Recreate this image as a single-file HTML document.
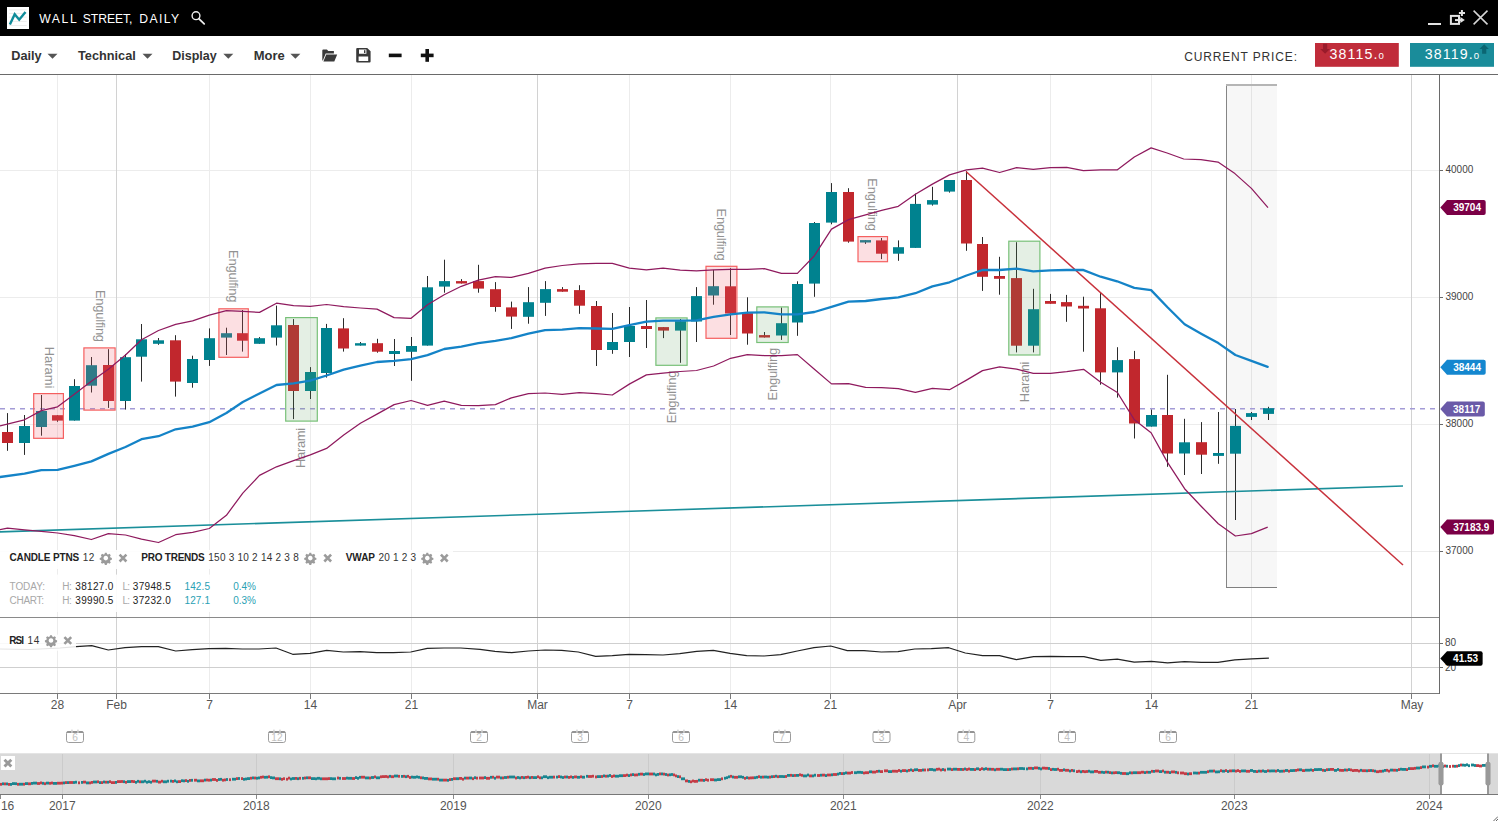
<!DOCTYPE html>
<html><head><meta charset="utf-8"><title>Wall Street, Daily</title>
<style>html,body{margin:0;padding:0;background:#fff;}body{width:1498px;height:821px;overflow:hidden;font-family:"Liberation Sans",sans-serif;}svg{display:block;font-family:"Liberation Sans",sans-serif;}</style></head><body>
<svg width="1498" height="821" viewBox="0 0 1498 821">
<rect width="1498" height="821" fill="#fff"/>
<g opacity="0.999">
<g shape-rendering="crispEdges">
<rect x="0" y="170" width="1440" height="1" fill="#ececec"/>
<rect x="0" y="297" width="1440" height="1" fill="#ececec"/>
<rect x="0" y="424" width="1440" height="1" fill="#ececec"/>
<rect x="0" y="551" width="1440" height="1" fill="#ececec"/>
<rect x="57" y="75" width="1" height="619" fill="#ececec"/>
<rect x="209" y="75" width="1" height="619" fill="#ececec"/>
<rect x="310" y="75" width="1" height="619" fill="#ececec"/>
<rect x="411" y="75" width="1" height="619" fill="#ececec"/>
<rect x="629" y="75" width="1" height="619" fill="#ececec"/>
<rect x="730" y="75" width="1" height="619" fill="#ececec"/>
<rect x="830" y="75" width="1" height="619" fill="#ececec"/>
<rect x="1050" y="75" width="1" height="619" fill="#ececec"/>
<rect x="1151" y="75" width="1" height="619" fill="#ececec"/>
<rect x="1251" y="75" width="1" height="619" fill="#ececec"/>
<rect x="116" y="75" width="1" height="619" fill="#d2d2d2"/>
<rect x="537" y="75" width="1" height="619" fill="#d2d2d2"/>
<rect x="957" y="75" width="1" height="619" fill="#d2d2d2"/>
<rect x="1411" y="75" width="1" height="619" fill="#d2d2d2"/>
<rect x="1227" y="86" width="50" height="501" fill="#000" fill-opacity="0.03"/>
<rect x="1226" y="84" width="1" height="504" fill="#858585"/>
<rect x="1226" y="84" width="51" height="2" fill="#b5b5b5"/>
<rect x="1226" y="587" width="51" height="1" fill="#808080"/>
</g>
<line x1="0" y1="408.7" x2="1440" y2="408.7" stroke="#a39bd6" stroke-width="1.6" stroke-dasharray="5,5"/>
<g>
<rect x="7" y="413.1" width="1" height="37.7" fill="#2b2b2b"/>
<rect x="2" y="432.0" width="11" height="11.0" fill="#c1272d"/>
<rect x="24" y="415.0" width="1" height="39.9" fill="#2b2b2b"/>
<rect x="19" y="426.0" width="11" height="17.0" fill="#00828f"/>
<rect x="41" y="395.0" width="1" height="40.7" fill="#2b2b2b"/>
<rect x="36" y="411.0" width="11" height="16.0" fill="#00828f"/>
<rect x="57" y="415.2" width="1" height="6.6" fill="#2b2b2b"/>
<rect x="52" y="415.2" width="11" height="5.4" fill="#c1272d"/>
<rect x="74" y="379.2" width="1" height="41.4" fill="#2b2b2b"/>
<rect x="69" y="386.0" width="11" height="34.6" fill="#00828f"/>
<rect x="91" y="357.0" width="1" height="35.5" fill="#2b2b2b"/>
<rect x="86" y="365.2" width="11" height="20.5" fill="#00828f"/>
<rect x="108" y="349.2" width="1" height="58.7" fill="#2b2b2b"/>
<rect x="103" y="365.0" width="11" height="36.0" fill="#c1272d"/>
<rect x="125" y="354.2" width="1" height="55.4" fill="#2b2b2b"/>
<rect x="120" y="357.2" width="11" height="43.8" fill="#00828f"/>
<rect x="141" y="324.0" width="1" height="57.6" fill="#2b2b2b"/>
<rect x="136" y="339.3" width="11" height="17.4" fill="#00828f"/>
<rect x="158" y="338.0" width="1" height="6.8" fill="#2b2b2b"/>
<rect x="153" y="340.3" width="11" height="3.5" fill="#00828f"/>
<rect x="175" y="335.2" width="1" height="61.4" fill="#2b2b2b"/>
<rect x="170" y="340.3" width="11" height="41.3" fill="#c1272d"/>
<rect x="192" y="355.7" width="1" height="32.0" fill="#2b2b2b"/>
<rect x="187" y="359.0" width="11" height="24.0" fill="#00828f"/>
<rect x="209" y="328.4" width="1" height="37.5" fill="#2b2b2b"/>
<rect x="204" y="338.2" width="11" height="21.8" fill="#00828f"/>
<rect x="226" y="327.7" width="1" height="27.3" fill="#2b2b2b"/>
<rect x="221" y="333.2" width="11" height="4.4" fill="#00828f"/>
<rect x="242" y="310.0" width="1" height="41.6" fill="#2b2b2b"/>
<rect x="237" y="333.2" width="11" height="7.5" fill="#c1272d"/>
<rect x="259" y="337.1" width="1" height="6.7" fill="#2b2b2b"/>
<rect x="254" y="338.2" width="11" height="5.6" fill="#00828f"/>
<rect x="276" y="305.6" width="1" height="39.9" fill="#2b2b2b"/>
<rect x="271" y="325.3" width="11" height="12.3" fill="#00828f"/>
<rect x="293" y="319.1" width="1" height="100.0" fill="#2b2b2b"/>
<rect x="288" y="325.0" width="11" height="66.0" fill="#c1272d"/>
<rect x="310" y="367.1" width="1" height="31.9" fill="#2b2b2b"/>
<rect x="305" y="372.0" width="11" height="19.0" fill="#00828f"/>
<rect x="326" y="323.9" width="1" height="53.7" fill="#2b2b2b"/>
<rect x="321" y="328.0" width="11" height="45.0" fill="#00828f"/>
<rect x="343" y="318.2" width="1" height="33.4" fill="#2b2b2b"/>
<rect x="338" y="328.4" width="11" height="20.1" fill="#c1272d"/>
<rect x="360" y="342.0" width="1" height="3.6" fill="#2b2b2b"/>
<rect x="355" y="343.2" width="11" height="2.4" fill="#00828f"/>
<rect x="377" y="338.8" width="1" height="13.9" fill="#2b2b2b"/>
<rect x="372" y="343.2" width="11" height="8.5" fill="#c1272d"/>
<rect x="394" y="339.0" width="1" height="27.0" fill="#2b2b2b"/>
<rect x="389" y="351.0" width="11" height="3.0" fill="#00828f"/>
<rect x="411" y="337.0" width="1" height="43.8" fill="#2b2b2b"/>
<rect x="406" y="346.0" width="11" height="5.8" fill="#00828f"/>
<rect x="427" y="276.0" width="1" height="69.6" fill="#2b2b2b"/>
<rect x="422" y="287.3" width="11" height="58.3" fill="#00828f"/>
<rect x="444" y="259.7" width="1" height="33.0" fill="#2b2b2b"/>
<rect x="439" y="281.1" width="11" height="5.5" fill="#00828f"/>
<rect x="461" y="279.1" width="1" height="4.4" fill="#2b2b2b"/>
<rect x="456" y="281.1" width="11" height="2.4" fill="#c1272d"/>
<rect x="478" y="264.8" width="1" height="27.9" fill="#2b2b2b"/>
<rect x="473" y="281.1" width="11" height="7.5" fill="#c1272d"/>
<rect x="495" y="282.1" width="1" height="29.6" fill="#2b2b2b"/>
<rect x="490" y="289.2" width="11" height="17.8" fill="#c1272d"/>
<rect x="511" y="301.6" width="1" height="27.3" fill="#2b2b2b"/>
<rect x="506" y="307.4" width="11" height="9.2" fill="#c1272d"/>
<rect x="528" y="287.1" width="1" height="36.6" fill="#2b2b2b"/>
<rect x="523" y="302.2" width="11" height="14.6" fill="#00828f"/>
<rect x="545" y="281.1" width="1" height="34.8" fill="#2b2b2b"/>
<rect x="540" y="289.1" width="11" height="13.7" fill="#00828f"/>
<rect x="562" y="287.1" width="1" height="4.6" fill="#2b2b2b"/>
<rect x="557" y="289.1" width="11" height="2.6" fill="#c1272d"/>
<rect x="579" y="285.2" width="1" height="28.6" fill="#2b2b2b"/>
<rect x="574" y="290.1" width="11" height="15.6" fill="#c1272d"/>
<rect x="596" y="301.0" width="1" height="65.0" fill="#2b2b2b"/>
<rect x="591" y="306.0" width="11" height="44.0" fill="#c1272d"/>
<rect x="612" y="313.0" width="1" height="40.8" fill="#2b2b2b"/>
<rect x="607" y="342.0" width="11" height="8.0" fill="#00828f"/>
<rect x="629" y="307.0" width="1" height="50.0" fill="#2b2b2b"/>
<rect x="624" y="326.0" width="11" height="16.0" fill="#00828f"/>
<rect x="646" y="300.0" width="1" height="48.0" fill="#2b2b2b"/>
<rect x="641" y="326.0" width="11" height="3.0" fill="#c1272d"/>
<rect x="663" y="327.1" width="1" height="11.0" fill="#2b2b2b"/>
<rect x="658" y="327.1" width="11" height="3.5" fill="#c1272d"/>
<rect x="680" y="319.0" width="1" height="43.8" fill="#2b2b2b"/>
<rect x="675" y="321.2" width="11" height="9.4" fill="#00828f"/>
<rect x="696" y="287.1" width="1" height="54.9" fill="#2b2b2b"/>
<rect x="691" y="296.1" width="11" height="25.4" fill="#00828f"/>
<rect x="713" y="269.9" width="1" height="34.8" fill="#2b2b2b"/>
<rect x="708" y="286.2" width="11" height="9.3" fill="#00828f"/>
<rect x="730" y="268.2" width="1" height="66.8" fill="#2b2b2b"/>
<rect x="725" y="286.3" width="11" height="27.2" fill="#c1272d"/>
<rect x="747" y="297.3" width="1" height="47.4" fill="#2b2b2b"/>
<rect x="742" y="313.2" width="11" height="20.3" fill="#c1272d"/>
<rect x="764" y="332.0" width="1" height="5.5" fill="#2b2b2b"/>
<rect x="759" y="335.1" width="11" height="2.4" fill="#c1272d"/>
<rect x="781" y="307.5" width="1" height="32.4" fill="#2b2b2b"/>
<rect x="776" y="323.2" width="11" height="12.3" fill="#00828f"/>
<rect x="797" y="281.3" width="1" height="54.5" fill="#2b2b2b"/>
<rect x="792" y="284.0" width="11" height="38.5" fill="#00828f"/>
<rect x="814" y="222.0" width="1" height="74.8" fill="#2b2b2b"/>
<rect x="809" y="223.0" width="11" height="60.6" fill="#00828f"/>
<rect x="831" y="183.1" width="1" height="41.2" fill="#2b2b2b"/>
<rect x="826" y="192.0" width="11" height="30.6" fill="#00828f"/>
<rect x="848" y="188.2" width="1" height="54.5" fill="#2b2b2b"/>
<rect x="843" y="192.0" width="11" height="49.6" fill="#c1272d"/>
<rect x="865" y="240.1" width="1" height="3.8" fill="#2b2b2b"/>
<rect x="860" y="240.1" width="11" height="2.4" fill="#00828f"/>
<rect x="881" y="238.0" width="1" height="21.1" fill="#2b2b2b"/>
<rect x="876" y="240.4" width="11" height="13.3" fill="#c1272d"/>
<rect x="898" y="240.4" width="1" height="20.4" fill="#2b2b2b"/>
<rect x="893" y="247.2" width="11" height="6.5" fill="#00828f"/>
<rect x="915" y="193.6" width="1" height="54.3" fill="#2b2b2b"/>
<rect x="910" y="203.9" width="11" height="44.0" fill="#00828f"/>
<rect x="932" y="186.8" width="1" height="18.8" fill="#2b2b2b"/>
<rect x="927" y="200.1" width="11" height="4.5" fill="#00828f"/>
<rect x="949" y="180.0" width="1" height="12.6" fill="#2b2b2b"/>
<rect x="944" y="180.0" width="11" height="11.6" fill="#00828f"/>
<rect x="966" y="171.1" width="1" height="79.7" fill="#2b2b2b"/>
<rect x="961" y="180.0" width="11" height="63.5" fill="#c1272d"/>
<rect x="982" y="237.0" width="1" height="53.9" fill="#2b2b2b"/>
<rect x="977" y="244.0" width="11" height="32.8" fill="#c1272d"/>
<rect x="999" y="256.8" width="1" height="37.9" fill="#2b2b2b"/>
<rect x="994" y="276.0" width="11" height="2.8" fill="#c1272d"/>
<rect x="1016" y="242.2" width="1" height="110.2" fill="#2b2b2b"/>
<rect x="1011" y="278.1" width="11" height="67.6" fill="#c1272d"/>
<rect x="1033" y="288.8" width="1" height="63.6" fill="#2b2b2b"/>
<rect x="1028" y="309.2" width="11" height="36.5" fill="#00828f"/>
<rect x="1050" y="293.9" width="1" height="9.9" fill="#2b2b2b"/>
<rect x="1045" y="301.0" width="11" height="2.8" fill="#c1272d"/>
<rect x="1066" y="294.9" width="1" height="26.9" fill="#2b2b2b"/>
<rect x="1061" y="302.1" width="11" height="4.4" fill="#c1272d"/>
<rect x="1083" y="296.7" width="1" height="55.0" fill="#2b2b2b"/>
<rect x="1078" y="305.8" width="11" height="2.7" fill="#c1272d"/>
<rect x="1100" y="293.0" width="1" height="91.7" fill="#2b2b2b"/>
<rect x="1095" y="308.3" width="11" height="64.1" fill="#c1272d"/>
<rect x="1117" y="347.2" width="1" height="50.4" fill="#2b2b2b"/>
<rect x="1112" y="360.1" width="11" height="12.3" fill="#00828f"/>
<rect x="1134" y="350.9" width="1" height="87.6" fill="#2b2b2b"/>
<rect x="1129" y="359.1" width="11" height="64.4" fill="#c1272d"/>
<rect x="1151" y="409.6" width="1" height="17.0" fill="#2b2b2b"/>
<rect x="1146" y="415.0" width="11" height="11.6" fill="#00828f"/>
<rect x="1167" y="374.8" width="1" height="92.0" fill="#2b2b2b"/>
<rect x="1162" y="415.0" width="11" height="38.5" fill="#c1272d"/>
<rect x="1184" y="418.8" width="1" height="56.2" fill="#2b2b2b"/>
<rect x="1179" y="442.3" width="11" height="11.2" fill="#00828f"/>
<rect x="1201" y="422.1" width="1" height="51.9" fill="#2b2b2b"/>
<rect x="1196" y="442.2" width="11" height="12.5" fill="#c1272d"/>
<rect x="1218" y="412.0" width="1" height="51.8" fill="#2b2b2b"/>
<rect x="1213" y="453.0" width="11" height="2.9" fill="#00828f"/>
<rect x="1235" y="409.0" width="1" height="111.0" fill="#2b2b2b"/>
<rect x="1230" y="425.9" width="11" height="27.8" fill="#00828f"/>
<rect x="1251" y="412.0" width="1" height="8.0" fill="#2b2b2b"/>
<rect x="1246" y="413.1" width="11" height="3.8" fill="#00828f"/>
<rect x="1268" y="406.8" width="1" height="13.2" fill="#2b2b2b"/>
<rect x="1263" y="408.2" width="11" height="5.7" fill="#00828f"/>
</g>
<rect x="33.7" y="393.6" width="29.7" height="44.7" fill="#f0606c" fill-opacity="0.2" stroke="#f55f5f" stroke-width="1.2"/>
<text transform="translate(44.8,346.8) rotate(90)" font-size="13" fill="#929292" textLength="41.6" lengthAdjust="spacing">Harami</text>
<rect x="83.9" y="347.9" width="31.2" height="62.2" fill="#f0606c" fill-opacity="0.2" stroke="#f55f5f" stroke-width="1.2"/>
<text transform="translate(95.6,289.9) rotate(90)" font-size="13" fill="#929292" textLength="52.2" lengthAdjust="spacing">Engulfing</text>
<rect x="218.9" y="308.8" width="29.4" height="48.5" fill="#f0606c" fill-opacity="0.2" stroke="#f55f5f" stroke-width="1.2"/>
<text transform="translate(228.8,250.0) rotate(90)" font-size="13" fill="#929292" textLength="52.5" lengthAdjust="spacing">Engulfing</text>
<rect x="285.7" y="317.6" width="31.6" height="103.5" fill="#5fa35f" fill-opacity="0.17" stroke="#78c078" stroke-width="1.2"/>
<text transform="translate(305.1,468.0) rotate(-90)" font-size="13" fill="#929292" textLength="40.2" lengthAdjust="spacing">Harami</text>
<rect x="655.9" y="317.9" width="31.2" height="47.4" fill="#5fa35f" fill-opacity="0.17" stroke="#78c078" stroke-width="1.2"/>
<text transform="translate(675.7,423.3) rotate(-90)" font-size="13" fill="#929292" textLength="52.8" lengthAdjust="spacing">Engulfing</text>
<rect x="706.0" y="266.3" width="30.9" height="72.0" fill="#f0606c" fill-opacity="0.2" stroke="#f55f5f" stroke-width="1.2"/>
<text transform="translate(716.7,208.5) rotate(90)" font-size="13" fill="#929292" textLength="52.2" lengthAdjust="spacing">Engulfing</text>
<rect x="756.8" y="306.9" width="31.4" height="35.6" fill="#5fa35f" fill-opacity="0.17" stroke="#78c078" stroke-width="1.2"/>
<text transform="translate(776.5,400.6) rotate(-90)" font-size="13" fill="#929292" textLength="52.9" lengthAdjust="spacing">Engulfing</text>
<rect x="858.0" y="236.6" width="29.5" height="25.1" fill="#f0606c" fill-opacity="0.2" stroke="#f55f5f" stroke-width="1.2"/>
<text transform="translate(867.7,178.3) rotate(90)" font-size="13" fill="#929292" textLength="52.8" lengthAdjust="spacing">Engulfing</text>
<rect x="1008.8" y="241.2" width="31.1" height="113.8" fill="#5fa35f" fill-opacity="0.17" stroke="#78c078" stroke-width="1.2"/>
<text transform="translate(1028.5,402.2) rotate(-90)" font-size="13" fill="#929292" textLength="40.7" lengthAdjust="spacing">Harami</text>
<line x1="0" y1="531.9" x2="1403" y2="486" stroke="#1a8f9a" stroke-width="1.6"/>
<line x1="966" y1="171.5" x2="1403" y2="565" stroke="#c8323c" stroke-width="1.5"/>
<path d="M0.0,425.9 L24.5,419.8 L41.3,410.6 L57.6,406.8 L74.3,394.2 L91.4,381.3 L108.4,369.3 L125.5,355.0 L141.5,339.7 L158.5,330.5 L175.6,324.3 L192.6,320.9 L209.3,315.1 L226.4,310.7 L242.8,311.4 L259.5,312.4 L276.5,303.2 L293.6,305.6 L310.3,306.3 L326.6,304.5 L343.7,306.6 L360.4,308.0 L377.0,309.1 L394.1,317.6 L411.1,318.3 L427.5,304.7 L444.2,294.8 L461.3,286.3 L478.3,280.1 L495.4,276.7 L511.4,277.4 L528.4,273.3 L545.1,268.2 L562.2,265.5 L579.2,263.8 L596.3,263.4 L612.3,263.4 L629.3,268.2 L646.4,269.9 L663.1,268.2 L680.2,270.2 L696.5,270.9 L713.6,269.9 L730.6,269.4 L747.3,269.3 L764.3,268.7 L781.4,273.4 L797.4,273.4 L814.4,255.7 L831.5,229.1 L848.5,219.6 L865.6,214.8 L881.6,210.3 L898.3,206.3 L915.4,194.3 L932.4,184.1 L949.5,174.9 L966.5,169.8 L982.5,168.1 L999.6,172.5 L1016.6,167.7 L1033.3,169.4 L1050.4,167.7 L1066.7,167.4 L1083.4,170.7 L1100.6,169.9 L1117.1,169.9 L1134.3,157.0 L1151.1,147.9 L1167.1,153.0 L1183.7,159.0 L1200.9,159.6 L1218.0,162.1 L1234.9,173.6 L1251.4,188.4 L1268.0,207.6" fill="none" stroke="#8f1a5e" stroke-width="1.25" stroke-linejoin="round"/>
<path d="M0.0,529.6 L7.5,528.2 L24.5,529.9 L41.3,531.3 L57.6,533.0 L74.3,535.7 L91.4,539.5 L108.4,533.7 L125.5,535.0 L141.5,539.1 L158.5,542.5 L175.6,534.7 L192.6,532.3 L209.3,528.5 L226.4,515.3 L242.8,493.1 L259.5,475.4 L276.5,466.8 L293.6,460.7 L310.3,454.9 L326.6,448.4 L343.7,435.1 L360.4,423.3 L377.0,414.1 L394.1,404.6 L411.1,400.5 L427.5,405.3 L444.2,401.2 L461.3,405.3 L478.3,405.6 L495.4,404.6 L511.4,397.8 L528.4,393.7 L545.1,393.0 L562.2,394.3 L579.2,392.6 L596.3,393.7 L612.3,395.0 L629.3,384.1 L646.4,374.9 L663.1,373.2 L680.2,371.5 L696.5,370.5 L713.6,366.0 L730.6,358.3 L747.3,354.6 L764.3,355.6 L781.4,355.6 L797.4,354.6 L814.4,369.2 L831.5,383.9 L848.5,383.6 L865.6,387.3 L881.6,387.6 L898.3,388.7 L915.4,392.4 L932.4,388.3 L949.5,389.7 L966.5,380.1 L982.5,370.6 L999.6,366.8 L1016.6,369.2 L1033.3,373.3 L1050.4,373.3 L1066.7,371.6 L1083.6,369.3 L1100.7,382.3 L1117.4,392.5 L1134.4,419.8 L1151.1,432.7 L1167.5,462.4 L1184.6,488.7 L1201.6,506.7 L1218.3,523.8 L1235.4,536.0 L1251.4,533.7 L1267.7,527.2" fill="none" stroke="#8f1a5e" stroke-width="1.25" stroke-linejoin="round"/>
<path d="M0.0,477.0 L24.5,473.7 L41.3,470.2 L57.6,469.9 L74.3,465.8 L91.4,461.4 L108.4,453.9 L125.5,447.0 L141.5,439.2 L158.5,436.2 L175.6,429.3 L192.6,426.6 L209.3,422.2 L226.4,413.0 L242.8,402.0 L259.5,393.5 L276.5,385.0 L293.6,383.3 L310.3,380.6 L326.6,375.5 L343.7,369.7 L360.4,365.6 L377.0,362.0 L394.1,360.9 L411.1,359.2 L427.5,355.1 L444.2,349.0 L461.3,346.6 L478.3,343.2 L495.4,340.8 L511.4,338.1 L528.4,333.7 L545.1,330.2 L562.2,329.6 L579.2,328.2 L596.3,328.5 L612.3,328.9 L629.3,325.1 L646.4,321.7 L663.1,320.7 L680.2,320.7 L696.5,320.4 L713.6,316.9 L730.6,314.3 L747.3,312.6 L764.3,312.3 L781.4,314.3 L797.4,314.3 L814.4,312.0 L831.5,306.8 L848.5,301.7 L865.6,301.0 L881.6,299.0 L898.3,297.3 L915.4,293.2 L932.4,286.4 L949.5,282.3 L966.5,275.5 L982.5,270.0 L999.6,270.0 L1016.6,268.7 L1033.3,271.4 L1050.4,270.4 L1066.7,270.0 L1082.9,269.9 L1100.6,276.7 L1117.1,281.3 L1134.3,287.9 L1151.1,290.1 L1167.5,307.3 L1184.6,324.3 L1201.6,333.9 L1218.3,343.1 L1235.4,355.0 L1251.4,360.8 L1267.7,366.9" fill="none" stroke="#1483c7" stroke-width="2.3" stroke-linejoin="round" stroke-linecap="round"/>
<rect x="0" y="550" width="453" height="19" fill="#fff" fill-opacity="0.88"/>
<rect x="0" y="574.6" width="263" height="37.4" fill="#fff" fill-opacity="0.9"/>
<text x="9.5" y="561.2" font-size="10" font-weight="bold" fill="#222" textLength="69.7" lengthAdjust="spacing">CANDLE PTNS</text>
<text x="82.8" y="561.2" font-size="10" fill="#333" textLength="11.4" lengthAdjust="spacing">12</text>
<path transform="translate(105.8,558.1) scale(0.92)" d="M-1,-5.8 h2 l.4,1.5 1.2,.5 1.4,-.8 1.4,1.4 -.8,1.4 .5,1.2 1.5,.4 v2 l-1.5,.4 -.5,1.2 .8,1.4 -1.4,1.4 -1.4,-.8 -1.2,.5 -.4,1.5 h-2 l-.4,-1.5 -1.2,-.5 -1.4,.8 -1.4,-1.4 .8,-1.4 -.5,-1.2 -1.5,-.4 v-2 l1.5,-.4 .5,-1.2 -.8,-1.4 1.4,-1.4 1.4,.8 1.2,-.5z M0,-2.5 a2.5,2.5 0 1,0 0.01,0z" fill="#9b9b9b" fill-rule="evenodd"/>
<path transform="translate(123,558.1)" d="M-3.4,-3.4 L3.4,3.4 M3.4,-3.4 L-3.4,3.4" stroke="#9b9b9b" stroke-width="2.6" fill="none"/>
<text x="141.3" y="561.2" font-size="10" font-weight="bold" fill="#222" textLength="63.4" lengthAdjust="spacing">PRO TRENDS</text>
<text x="208.3" y="561.2" font-size="10" fill="#333" textLength="90.4" lengthAdjust="spacing">150 3 10 2 14 2 3 8</text>
<path transform="translate(310.3,558.1) scale(0.92)" d="M-1,-5.8 h2 l.4,1.5 1.2,.5 1.4,-.8 1.4,1.4 -.8,1.4 .5,1.2 1.5,.4 v2 l-1.5,.4 -.5,1.2 .8,1.4 -1.4,1.4 -1.4,-.8 -1.2,.5 -.4,1.5 h-2 l-.4,-1.5 -1.2,-.5 -1.4,.8 -1.4,-1.4 .8,-1.4 -.5,-1.2 -1.5,-.4 v-2 l1.5,-.4 .5,-1.2 -.8,-1.4 1.4,-1.4 1.4,.8 1.2,-.5z M0,-2.5 a2.5,2.5 0 1,0 0.01,0z" fill="#9b9b9b" fill-rule="evenodd"/>
<path transform="translate(327.7,558.1)" d="M-3.4,-3.4 L3.4,3.4 M3.4,-3.4 L-3.4,3.4" stroke="#9b9b9b" stroke-width="2.6" fill="none"/>
<text x="345.7" y="561.2" font-size="10" font-weight="bold" fill="#222" textLength="29.3" lengthAdjust="spacing">VWAP</text>
<text x="378.6" y="561.2" font-size="10" fill="#333" textLength="37.4" lengthAdjust="spacing">20 1 2 3</text>
<path transform="translate(427.3,558.1) scale(0.92)" d="M-1,-5.8 h2 l.4,1.5 1.2,.5 1.4,-.8 1.4,1.4 -.8,1.4 .5,1.2 1.5,.4 v2 l-1.5,.4 -.5,1.2 .8,1.4 -1.4,1.4 -1.4,-.8 -1.2,.5 -.4,1.5 h-2 l-.4,-1.5 -1.2,-.5 -1.4,.8 -1.4,-1.4 .8,-1.4 -.5,-1.2 -1.5,-.4 v-2 l1.5,-.4 .5,-1.2 -.8,-1.4 1.4,-1.4 1.4,.8 1.2,-.5z M0,-2.5 a2.5,2.5 0 1,0 0.01,0z" fill="#9b9b9b" fill-rule="evenodd"/>
<path transform="translate(444.3,558.1)" d="M-3.4,-3.4 L3.4,3.4 M3.4,-3.4 L-3.4,3.4" stroke="#9b9b9b" stroke-width="2.6" fill="none"/>
<text x="9.5" y="590.4" font-size="10" fill="#a8a8a8" text-anchor="start" font-weight="normal" textLength="35.5" lengthAdjust="spacing">TODAY:</text>
<text x="62.2" y="590.4" font-size="10" fill="#a8a8a8" text-anchor="start" font-weight="normal" textLength="9.5" lengthAdjust="spacing">H:</text>
<text x="75.3" y="590.4" font-size="10" fill="#222" text-anchor="start" font-weight="normal" textLength="38.0" lengthAdjust="spacing">38127.0</text>
<text x="122.5" y="590.4" font-size="10" fill="#a8a8a8" text-anchor="start" font-weight="normal" textLength="7.5" lengthAdjust="spacing">L:</text>
<text x="132.8" y="590.4" font-size="10" fill="#222" text-anchor="start" font-weight="normal" textLength="38.0" lengthAdjust="spacing">37948.5</text>
<text x="184.5" y="590.4" font-size="10" fill="#2a9fb4" text-anchor="start" font-weight="normal" textLength="25.5" lengthAdjust="spacing">142.5</text>
<text x="233.3" y="590.4" font-size="10" fill="#2a9fb4" text-anchor="start" font-weight="normal" textLength="22.5" lengthAdjust="spacing">0.4%</text>
<text x="9.5" y="604.4" font-size="10" fill="#a8a8a8" text-anchor="start" font-weight="normal" textLength="34.5" lengthAdjust="spacing">CHART:</text>
<text x="62.2" y="604.4" font-size="10" fill="#a8a8a8" text-anchor="start" font-weight="normal" textLength="9.5" lengthAdjust="spacing">H:</text>
<text x="75.3" y="604.4" font-size="10" fill="#222" text-anchor="start" font-weight="normal" textLength="38.0" lengthAdjust="spacing">39990.5</text>
<text x="122.5" y="604.4" font-size="10" fill="#a8a8a8" text-anchor="start" font-weight="normal" textLength="7.5" lengthAdjust="spacing">L:</text>
<text x="132.8" y="604.4" font-size="10" fill="#222" text-anchor="start" font-weight="normal" textLength="38.0" lengthAdjust="spacing">37232.0</text>
<text x="184.5" y="604.4" font-size="10" fill="#2a9fb4" text-anchor="start" font-weight="normal" textLength="25.5" lengthAdjust="spacing">127.1</text>
<text x="233.3" y="604.4" font-size="10" fill="#2a9fb4" text-anchor="start" font-weight="normal" textLength="22.5" lengthAdjust="spacing">0.3%</text>
<g shape-rendering="crispEdges">
<rect x="0" y="617" width="1440" height="1" fill="#8a8a8a"/>
<rect x="0" y="643" width="1440" height="1" fill="#cfcfcf"/>
<rect x="0" y="667" width="1440" height="1" fill="#cfcfcf"/>
<rect x="0" y="693" width="1440" height="1" fill="#7a7a7a"/>
<rect x="57" y="694" width="1" height="4.5" fill="#7c7c7c"/>
<rect x="116" y="694" width="1" height="4.5" fill="#7c7c7c"/>
<rect x="209" y="694" width="1" height="4.5" fill="#7c7c7c"/>
<rect x="310" y="694" width="1" height="4.5" fill="#7c7c7c"/>
<rect x="411" y="694" width="1" height="4.5" fill="#7c7c7c"/>
<rect x="537" y="694" width="1" height="4.5" fill="#7c7c7c"/>
<rect x="629" y="694" width="1" height="4.5" fill="#7c7c7c"/>
<rect x="730" y="694" width="1" height="4.5" fill="#7c7c7c"/>
<rect x="830" y="694" width="1" height="4.5" fill="#7c7c7c"/>
<rect x="957" y="694" width="1" height="4.5" fill="#7c7c7c"/>
<rect x="1050" y="694" width="1" height="4.5" fill="#7c7c7c"/>
<rect x="1151" y="694" width="1" height="4.5" fill="#7c7c7c"/>
<rect x="1251" y="694" width="1" height="4.5" fill="#7c7c7c"/>
<rect x="1411" y="694" width="1" height="4.5" fill="#7c7c7c"/>
<rect x="1439" y="74" width="1" height="620" fill="#6a6a6a"/>
<rect x="1440" y="170" width="3" height="1" fill="#6a6a6a"/>
<rect x="1440" y="297" width="3" height="1" fill="#6a6a6a"/>
<rect x="1440" y="424" width="3" height="1" fill="#6a6a6a"/>
<rect x="1440" y="551" width="3" height="1" fill="#6a6a6a"/>
<rect x="1440" y="643" width="3" height="1" fill="#6a6a6a"/>
<rect x="1440" y="667" width="3" height="1" fill="#6a6a6a"/>
</g>
<path d="M0.0,649.0 L30.0,649.5 L60.0,648.0 L76.0,646.7 L91.7,645.7 L108.3,650.0 L125.0,647.7 L141.7,646.7 L158.3,646.7 L175.7,651.0 L192.3,649.7 L209.0,648.7 L225.7,648.3 L242.3,649.0 L259.0,649.0 L276.0,648.0 L292.7,654.3 L310.0,653.3 L326.7,650.3 L343.3,652.0 L360.0,651.7 L376.7,652.7 L393.3,652.7 L410.7,652.0 L427.3,648.3 L444.0,648.0 L460.7,648.0 L480.0,649.3 L495.0,651.3 L511.7,652.7 L528.3,651.0 L545.0,650.0 L561.7,650.3 L578.3,652.0 L595.7,656.3 L612.3,655.7 L629.0,654.3 L645.7,654.7 L663.0,655.0 L679.7,653.7 L696.7,651.3 L713.3,650.3 L730.0,653.3 L746.7,655.7 L764.0,656.0 L780.7,654.7 L797.3,651.0 L814.0,647.7 L830.7,646.0 L847.3,650.7 L864.0,650.7 L881.3,652.0 L898.0,651.7 L914.7,649.0 L931.3,648.7 L948.7,647.7 L965.3,653.0 L982.6,655.6 L999.5,655.6 L1016.4,659.6 L1033.6,656.7 L1050.5,656.3 L1067.0,656.7 L1083.9,656.7 L1100.8,660.3 L1117.3,659.2 L1134.2,662.1 L1151.4,661.4 L1167.6,662.8 L1184.5,661.7 L1201.4,662.4 L1217.9,662.4 L1234.8,659.9 L1251.7,658.9 L1268.9,658.1" fill="none" stroke="#222" stroke-width="1.2" stroke-linejoin="round"/>
<rect x="0" y="634.7" width="76" height="16" fill="#fff" fill-opacity="0.88"/>
<text x="9.3" y="643.6" font-size="10" font-weight="bold" fill="#222" textLength="14.7" lengthAdjust="spacing">RSI</text>
<text x="27.6" y="643.6" font-size="10" fill="#333" textLength="11.7" lengthAdjust="spacing">14</text>
<path transform="translate(51,640.5) scale(0.92)" d="M-1,-5.8 h2 l.4,1.5 1.2,.5 1.4,-.8 1.4,1.4 -.8,1.4 .5,1.2 1.5,.4 v2 l-1.5,.4 -.5,1.2 .8,1.4 -1.4,1.4 -1.4,-.8 -1.2,.5 -.4,1.5 h-2 l-.4,-1.5 -1.2,-.5 -1.4,.8 -1.4,-1.4 .8,-1.4 -.5,-1.2 -1.5,-.4 v-2 l1.5,-.4 .5,-1.2 -.8,-1.4 1.4,-1.4 1.4,.8 1.2,-.5z M0,-2.5 a2.5,2.5 0 1,0 0.01,0z" fill="#9b9b9b" fill-rule="evenodd"/>
<path transform="translate(67.8,640.5)" d="M-3.4,-3.4 L3.4,3.4 M3.4,-3.4 L-3.4,3.4" stroke="#9b9b9b" stroke-width="2.6" fill="none"/>
<text x="1445.6" y="173.0" font-size="10" fill="#444" text-anchor="start" font-weight="normal" textLength="27.6" lengthAdjust="spacing">40000</text>
<text x="1445.6" y="300.0" font-size="10" fill="#444" text-anchor="start" font-weight="normal" textLength="27.6" lengthAdjust="spacing">39000</text>
<text x="1445.6" y="427.0" font-size="10" fill="#444" text-anchor="start" font-weight="normal" textLength="27.6" lengthAdjust="spacing">38000</text>
<text x="1445.6" y="553.5" font-size="10" fill="#444" text-anchor="start" font-weight="normal" textLength="27.6" lengthAdjust="spacing">37000</text>
<text x="1445" y="646.3" font-size="10" fill="#444" text-anchor="start" font-weight="normal">80</text>
<text x="1445" y="671" font-size="10" fill="#444" text-anchor="start" font-weight="normal">20</text>
<path d="M1440.3,207.6 L1447,200.1 H1483.7 a2,2 0 0 1 2,2 V213.1 a2,2 0 0 1 -2,2 H1447 Z" fill="#7b0046"/>
<text x="1467.1" y="211.29999999999998" font-size="10" font-weight="bold" fill="#fff" text-anchor="middle">39704</text>
<path d="M1440.3,367.2 L1447,359.7 H1483.7 a2,2 0 0 1 2,2 V372.7 a2,2 0 0 1 -2,2 H1447 Z" fill="#1487cf"/>
<text x="1467.1" y="370.9" font-size="10" font-weight="bold" fill="#fff" text-anchor="middle">38444</text>
<path d="M1440.3,408.9 L1447,401.4 H1482.8 a2,2 0 0 1 2,2 V414.4 a2,2 0 0 1 -2,2 H1447 Z" fill="#6a5aa8"/>
<text x="1466.7" y="412.59999999999997" font-size="10" font-weight="bold" fill="#fff" text-anchor="middle">38117</text>
<path d="M1440.3,527 L1447,519.5 H1492 a2,2 0 0 1 2,2 V532.5 a2,2 0 0 1 -2,2 H1447 Z" fill="#7b0046"/>
<text x="1471.3" y="530.7" font-size="10" font-weight="bold" fill="#fff" text-anchor="middle">37183.9</text>
<path d="M1440.3,658.5 L1447,651.25 H1480.6 a2,2 0 0 1 2,2 V663.75 a2,2 0 0 1 -2,2 H1447 Z" fill="#000"/>
<text x="1465.6" y="662.2" font-size="10" font-weight="bold" fill="#fff" text-anchor="middle">41.53</text>
<text x="57.5" y="708.7" font-size="12" fill="#555" text-anchor="middle" font-weight="normal">28</text>
<text x="116.5" y="708.7" font-size="12" fill="#555" text-anchor="middle" font-weight="normal">Feb</text>
<text x="209.5" y="708.7" font-size="12" fill="#555" text-anchor="middle" font-weight="normal">7</text>
<text x="310.5" y="708.7" font-size="12" fill="#555" text-anchor="middle" font-weight="normal">14</text>
<text x="411.5" y="708.7" font-size="12" fill="#555" text-anchor="middle" font-weight="normal">21</text>
<text x="537.5" y="708.7" font-size="12" fill="#555" text-anchor="middle" font-weight="normal">Mar</text>
<text x="629.5" y="708.7" font-size="12" fill="#555" text-anchor="middle" font-weight="normal">7</text>
<text x="730.5" y="708.7" font-size="12" fill="#555" text-anchor="middle" font-weight="normal">14</text>
<text x="830.5" y="708.7" font-size="12" fill="#555" text-anchor="middle" font-weight="normal">21</text>
<text x="957.5" y="708.7" font-size="12" fill="#555" text-anchor="middle" font-weight="normal">Apr</text>
<text x="1050.5" y="708.7" font-size="12" fill="#555" text-anchor="middle" font-weight="normal">7</text>
<text x="1151.5" y="708.7" font-size="12" fill="#555" text-anchor="middle" font-weight="normal">14</text>
<text x="1251.5" y="708.7" font-size="12" fill="#555" text-anchor="middle" font-weight="normal">21</text>
<text x="1412.0" y="708.7" font-size="12" fill="#555" text-anchor="middle" font-weight="normal">May</text>
<rect x="66.5" y="731.5" width="17" height="11" rx="2.2" fill="#fff" stroke="#9c9c9c" stroke-width="1"/>
<path d="M66.4,733 v-0.3 a1.8,1.8 0 0 1 1.8,-1.8 h13.6 a1.8,1.8 0 0 1 1.8,1.8 v0.3z" fill="#949494"/>
<rect x="71.2" y="729.6" width="1.5" height="3.2" fill="#d2d2d2"/><rect x="77.2" y="729.6" width="1.5" height="3.2" fill="#d2d2d2"/>
<text x="75" y="740.9" font-size="10.2" fill="#c2c2c2" text-anchor="middle">6</text>
<rect x="268.5" y="731.5" width="17" height="11" rx="2.2" fill="#fff" stroke="#9c9c9c" stroke-width="1"/>
<path d="M268.4,733 v-0.3 a1.8,1.8 0 0 1 1.8,-1.8 h13.6 a1.8,1.8 0 0 1 1.8,1.8 v0.3z" fill="#949494"/>
<rect x="273.2" y="729.6" width="1.5" height="3.2" fill="#d2d2d2"/><rect x="279.2" y="729.6" width="1.5" height="3.2" fill="#d2d2d2"/>
<text x="277" y="740.9" font-size="10.2" fill="#c2c2c2" text-anchor="middle">12</text>
<rect x="470.5" y="731.5" width="17" height="11" rx="2.2" fill="#fff" stroke="#9c9c9c" stroke-width="1"/>
<path d="M470.4,733 v-0.3 a1.8,1.8 0 0 1 1.8,-1.8 h13.6 a1.8,1.8 0 0 1 1.8,1.8 v0.3z" fill="#949494"/>
<rect x="475.2" y="729.6" width="1.5" height="3.2" fill="#d2d2d2"/><rect x="481.2" y="729.6" width="1.5" height="3.2" fill="#d2d2d2"/>
<text x="479" y="740.9" font-size="10.2" fill="#c2c2c2" text-anchor="middle">2</text>
<rect x="571.5" y="731.5" width="17" height="11" rx="2.2" fill="#fff" stroke="#9c9c9c" stroke-width="1"/>
<path d="M571.4,733 v-0.3 a1.8,1.8 0 0 1 1.8,-1.8 h13.6 a1.8,1.8 0 0 1 1.8,1.8 v0.3z" fill="#949494"/>
<rect x="576.2" y="729.6" width="1.5" height="3.2" fill="#d2d2d2"/><rect x="582.2" y="729.6" width="1.5" height="3.2" fill="#d2d2d2"/>
<text x="580" y="740.9" font-size="10.2" fill="#c2c2c2" text-anchor="middle">3</text>
<rect x="672.5" y="731.5" width="17" height="11" rx="2.2" fill="#fff" stroke="#9c9c9c" stroke-width="1"/>
<path d="M672.4,733 v-0.3 a1.8,1.8 0 0 1 1.8,-1.8 h13.6 a1.8,1.8 0 0 1 1.8,1.8 v0.3z" fill="#949494"/>
<rect x="677.2" y="729.6" width="1.5" height="3.2" fill="#d2d2d2"/><rect x="683.2" y="729.6" width="1.5" height="3.2" fill="#d2d2d2"/>
<text x="681" y="740.9" font-size="10.2" fill="#c2c2c2" text-anchor="middle">6</text>
<rect x="773.5" y="731.5" width="17" height="11" rx="2.2" fill="#fff" stroke="#9c9c9c" stroke-width="1"/>
<path d="M773.4,733 v-0.3 a1.8,1.8 0 0 1 1.8,-1.8 h13.6 a1.8,1.8 0 0 1 1.8,1.8 v0.3z" fill="#949494"/>
<rect x="778.2" y="729.6" width="1.5" height="3.2" fill="#d2d2d2"/><rect x="784.2" y="729.6" width="1.5" height="3.2" fill="#d2d2d2"/>
<text x="782" y="740.9" font-size="10.2" fill="#c2c2c2" text-anchor="middle">7</text>
<rect x="873.0" y="731.5" width="17" height="11" rx="2.2" fill="#fff" stroke="#9c9c9c" stroke-width="1"/>
<path d="M872.9,733 v-0.3 a1.8,1.8 0 0 1 1.8,-1.8 h13.6 a1.8,1.8 0 0 1 1.8,1.8 v0.3z" fill="#949494"/>
<rect x="877.7" y="729.6" width="1.5" height="3.2" fill="#d2d2d2"/><rect x="883.7" y="729.6" width="1.5" height="3.2" fill="#d2d2d2"/>
<text x="881.5" y="740.9" font-size="10.2" fill="#c2c2c2" text-anchor="middle">3</text>
<rect x="957.8" y="731.5" width="17" height="11" rx="2.2" fill="#fff" stroke="#9c9c9c" stroke-width="1"/>
<path d="M957.7,733 v-0.3 a1.8,1.8 0 0 1 1.8,-1.8 h13.6 a1.8,1.8 0 0 1 1.8,1.8 v0.3z" fill="#949494"/>
<rect x="962.5" y="729.6" width="1.5" height="3.2" fill="#d2d2d2"/><rect x="968.5" y="729.6" width="1.5" height="3.2" fill="#d2d2d2"/>
<text x="966.3" y="740.9" font-size="10.2" fill="#c2c2c2" text-anchor="middle">4</text>
<rect x="1058.5" y="731.5" width="17" height="11" rx="2.2" fill="#fff" stroke="#9c9c9c" stroke-width="1"/>
<path d="M1058.4,733 v-0.3 a1.8,1.8 0 0 1 1.8,-1.8 h13.6 a1.8,1.8 0 0 1 1.8,1.8 v0.3z" fill="#949494"/>
<rect x="1063.2" y="729.6" width="1.5" height="3.2" fill="#d2d2d2"/><rect x="1069.2" y="729.6" width="1.5" height="3.2" fill="#d2d2d2"/>
<text x="1067" y="740.9" font-size="10.2" fill="#c2c2c2" text-anchor="middle">4</text>
<rect x="1159.5" y="731.5" width="17" height="11" rx="2.2" fill="#fff" stroke="#9c9c9c" stroke-width="1"/>
<path d="M1159.4,733 v-0.3 a1.8,1.8 0 0 1 1.8,-1.8 h13.6 a1.8,1.8 0 0 1 1.8,1.8 v0.3z" fill="#949494"/>
<rect x="1164.2" y="729.6" width="1.5" height="3.2" fill="#d2d2d2"/><rect x="1170.2" y="729.6" width="1.5" height="3.2" fill="#d2d2d2"/>
<text x="1168" y="740.9" font-size="10.2" fill="#c2c2c2" text-anchor="middle">6</text>
<g shape-rendering="crispEdges">
<rect x="0" y="753" width="1498" height="41" fill="#d9d9d9"/>
<rect x="62" y="753" width="1" height="41" fill="#cbcbcb"/>
<rect x="62" y="795" width="1" height="4" fill="#8a8a8a"/>
<rect x="256" y="753" width="1" height="41" fill="#cbcbcb"/>
<rect x="256" y="795" width="1" height="4" fill="#8a8a8a"/>
<rect x="453" y="753" width="1" height="41" fill="#cbcbcb"/>
<rect x="453" y="795" width="1" height="4" fill="#8a8a8a"/>
<rect x="648" y="753" width="1" height="41" fill="#cbcbcb"/>
<rect x="648" y="795" width="1" height="4" fill="#8a8a8a"/>
<rect x="843" y="753" width="1" height="41" fill="#cbcbcb"/>
<rect x="843" y="795" width="1" height="4" fill="#8a8a8a"/>
<rect x="1040" y="753" width="1" height="41" fill="#cbcbcb"/>
<rect x="1040" y="795" width="1" height="4" fill="#8a8a8a"/>
<rect x="1234" y="753" width="1" height="41" fill="#cbcbcb"/>
<rect x="1234" y="795" width="1" height="4" fill="#8a8a8a"/>
<rect x="1429" y="753" width="1" height="41" fill="#cbcbcb"/>
<rect x="1429" y="795" width="1" height="4" fill="#8a8a8a"/>
<rect x="1441" y="754" width="47" height="40" fill="#fff"/>
<rect x="0" y="753" width="1498" height="1" fill="#e4e4e4"/><rect x="0" y="794" width="1498" height="1" fill="#777"/>
<rect x="1" y="756" width="14" height="14" fill="#fff"/><rect x="0" y="795" width="1" height="4" fill="#8a8a8a"/>
</g>
<path d="M4.5,759.7 L11.3,766.5 M11.3,759.7 L4.5,766.5" stroke="#9a9a9a" stroke-width="2.9" fill="none"/>
<g>
<rect x="0" y="782.9" width="2" height="2.8" fill="#c43c46"/>
<rect x="2" y="782.4" width="2" height="2.8" fill="#1a8590"/>
<rect x="4" y="782.5" width="2" height="2.8" fill="#c43c46"/>
<rect x="6" y="782.5" width="2" height="2.8" fill="#1a8590"/>
<rect x="8" y="783.0" width="2" height="2.8" fill="#c43c46"/>
<rect x="10" y="783.0" width="2" height="2.8" fill="#1a8590"/>
<rect x="12" y="782.2" width="3" height="2.8" fill="#1a8590"/>
<rect x="15" y="782.3" width="2" height="2.8" fill="#1a8590"/>
<rect x="17" y="782.9" width="2" height="2.8" fill="#c43c46"/>
<rect x="19" y="782.8" width="4" height="2.8" fill="#1a8590"/>
<rect x="23" y="782.8" width="2" height="2.8" fill="#c43c46"/>
<rect x="25" y="782.2" width="3" height="2.8" fill="#1a8590"/>
<rect x="28" y="782.4" width="3" height="2.8" fill="#c43c46"/>
<rect x="31" y="782.0" width="2" height="2.8" fill="#1a8590"/>
<rect x="33" y="781.7" width="4" height="2.8" fill="#1a8590"/>
<rect x="37" y="782.1" width="3" height="2.8" fill="#c43c46"/>
<rect x="40" y="781.5" width="2" height="2.8" fill="#c43c46"/>
<rect x="42" y="781.9" width="2" height="2.8" fill="#1a8590"/>
<rect x="44" y="782.3" width="2" height="2.8" fill="#c43c46"/>
<rect x="46" y="781.7" width="3" height="2.8" fill="#1a8590"/>
<rect x="49" y="781.9" width="2" height="2.8" fill="#c43c46"/>
<rect x="51" y="781.6" width="2" height="2.8" fill="#c43c46"/>
<rect x="53" y="782.0" width="4" height="2.8" fill="#1a8590"/>
<rect x="57" y="781.8" width="4" height="2.8" fill="#c43c46"/>
<rect x="61" y="781.7" width="2" height="2.8" fill="#c43c46"/>
<rect x="63" y="781.5" width="2" height="2.8" fill="#1a8590"/>
<rect x="65" y="781.2" width="2" height="2.8" fill="#c43c46"/>
<rect x="67" y="781.2" width="2" height="2.8" fill="#1a8590"/>
<rect x="69" y="781.1" width="2" height="2.8" fill="#c43c46"/>
<rect x="71" y="781.1" width="2" height="2.8" fill="#c43c46"/>
<rect x="73" y="781.1" width="2" height="2.8" fill="#1a8590"/>
<rect x="75" y="780.8" width="2" height="2.8" fill="#1a8590"/>
<rect x="78" y="781.4" width="2" height="2.8" fill="#c43c46"/>
<rect x="81" y="781.0" width="2" height="2.8" fill="#1a8590"/>
<rect x="83" y="780.7" width="3" height="2.8" fill="#c43c46"/>
<rect x="86" y="781.5" width="3" height="2.8" fill="#1a8590"/>
<rect x="89" y="781.5" width="2" height="2.8" fill="#c43c46"/>
<rect x="91" y="781.0" width="2" height="2.8" fill="#c43c46"/>
<rect x="93" y="780.6" width="4" height="2.8" fill="#1a8590"/>
<rect x="97" y="780.4" width="2" height="2.8" fill="#c43c46"/>
<rect x="99" y="781.2" width="2" height="2.8" fill="#1a8590"/>
<rect x="101" y="781.2" width="2" height="2.8" fill="#c43c46"/>
<rect x="103" y="780.6" width="2" height="2.8" fill="#1a8590"/>
<rect x="105" y="780.8" width="2" height="2.8" fill="#c43c46"/>
<rect x="107" y="780.8" width="2" height="2.8" fill="#1a8590"/>
<rect x="109" y="780.3" width="2" height="2.8" fill="#c43c46"/>
<rect x="111" y="781.2" width="4" height="2.8" fill="#c43c46"/>
<rect x="115" y="781.0" width="2" height="2.8" fill="#1a8590"/>
<rect x="117" y="780.2" width="4" height="2.8" fill="#c43c46"/>
<rect x="121" y="780.1" width="2" height="2.8" fill="#c43c46"/>
<rect x="123" y="780.3" width="2" height="2.8" fill="#1a8590"/>
<rect x="125" y="780.9" width="2" height="2.8" fill="#c43c46"/>
<rect x="127" y="780.2" width="2" height="2.8" fill="#1a8590"/>
<rect x="129" y="780.2" width="2" height="2.8" fill="#1a8590"/>
<rect x="131" y="780.0" width="2" height="2.8" fill="#c43c46"/>
<rect x="133" y="780.2" width="2" height="2.8" fill="#c43c46"/>
<rect x="135" y="780.9" width="2" height="2.8" fill="#1a8590"/>
<rect x="137" y="779.9" width="2" height="2.8" fill="#1a8590"/>
<rect x="139" y="780.4" width="2" height="2.8" fill="#c43c46"/>
<rect x="141" y="780.4" width="3" height="2.8" fill="#1a8590"/>
<rect x="144" y="779.8" width="2" height="2.8" fill="#1a8590"/>
<rect x="146" y="780.8" width="2" height="2.8" fill="#1a8590"/>
<rect x="148" y="780.3" width="2" height="2.8" fill="#1a8590"/>
<rect x="150" y="780.8" width="2" height="2.8" fill="#1a8590"/>
<rect x="152" y="779.7" width="2" height="2.8" fill="#c43c46"/>
<rect x="154" y="779.7" width="2" height="2.8" fill="#c43c46"/>
<rect x="156" y="779.9" width="2" height="2.8" fill="#1a8590"/>
<rect x="158" y="780.7" width="3" height="2.8" fill="#c43c46"/>
<rect x="161" y="779.8" width="2" height="2.8" fill="#c43c46"/>
<rect x="163" y="780.4" width="4" height="2.8" fill="#1a8590"/>
<rect x="167" y="779.8" width="2" height="2.8" fill="#1a8590"/>
<rect x="170" y="779.7" width="2" height="2.8" fill="#1a8590"/>
<rect x="172" y="780.0" width="2" height="2.8" fill="#c43c46"/>
<rect x="174" y="779.5" width="2" height="2.8" fill="#1a8590"/>
<rect x="176" y="780.4" width="2" height="2.8" fill="#1a8590"/>
<rect x="178" y="780.2" width="3" height="2.8" fill="#c43c46"/>
<rect x="181" y="779.3" width="2" height="2.8" fill="#1a8590"/>
<rect x="183" y="779.5" width="2" height="2.8" fill="#1a8590"/>
<rect x="185" y="779.2" width="2" height="2.8" fill="#c43c46"/>
<rect x="187" y="779.9" width="2" height="2.8" fill="#1a8590"/>
<rect x="189" y="779.0" width="2" height="2.8" fill="#c43c46"/>
<rect x="191" y="778.9" width="2" height="2.8" fill="#1a8590"/>
<rect x="194" y="778.8" width="3" height="2.8" fill="#c43c46"/>
<rect x="197" y="779.5" width="3" height="2.8" fill="#1a8590"/>
<rect x="200" y="779.4" width="4" height="2.8" fill="#c43c46"/>
<rect x="204" y="778.7" width="2" height="2.8" fill="#1a8590"/>
<rect x="206" y="778.6" width="2" height="2.8" fill="#c43c46"/>
<rect x="208" y="778.8" width="2" height="2.8" fill="#c43c46"/>
<rect x="210" y="778.7" width="2" height="2.8" fill="#1a8590"/>
<rect x="212" y="778.1" width="4" height="2.8" fill="#c43c46"/>
<rect x="216" y="779.0" width="2" height="2.8" fill="#c43c46"/>
<rect x="218" y="778.1" width="2" height="2.8" fill="#1a8590"/>
<rect x="220" y="777.9" width="2" height="2.8" fill="#1a8590"/>
<rect x="222" y="778.8" width="2" height="2.8" fill="#c43c46"/>
<rect x="224" y="778.5" width="2" height="2.8" fill="#c43c46"/>
<rect x="226" y="778.1" width="2" height="2.8" fill="#1a8590"/>
<rect x="229" y="778.3" width="2" height="2.8" fill="#c43c46"/>
<rect x="232" y="777.8" width="4" height="2.8" fill="#1a8590"/>
<rect x="236" y="777.2" width="2" height="2.8" fill="#c43c46"/>
<rect x="238" y="777.1" width="2" height="2.8" fill="#1a8590"/>
<rect x="241" y="777.2" width="2" height="2.8" fill="#c43c46"/>
<rect x="243" y="777.9" width="2" height="2.8" fill="#1a8590"/>
<rect x="245" y="777.6" width="2" height="2.8" fill="#1a8590"/>
<rect x="247" y="777.2" width="3" height="2.8" fill="#1a8590"/>
<rect x="250" y="776.8" width="2" height="2.8" fill="#c43c46"/>
<rect x="252" y="776.5" width="2" height="2.8" fill="#1a8590"/>
<rect x="254" y="776.6" width="2" height="2.8" fill="#c43c46"/>
<rect x="256" y="776.8" width="2" height="2.8" fill="#1a8590"/>
<rect x="258" y="776.5" width="2" height="2.8" fill="#1a8590"/>
<rect x="260" y="775.9" width="2" height="2.8" fill="#c43c46"/>
<rect x="262" y="775.6" width="2" height="2.8" fill="#c43c46"/>
<rect x="264" y="775.9" width="2" height="2.8" fill="#1a8590"/>
<rect x="266" y="775.8" width="2" height="2.8" fill="#1a8590"/>
<rect x="268" y="775.4" width="2" height="2.8" fill="#c43c46"/>
<rect x="270" y="776.2" width="2" height="2.8" fill="#1a8590"/>
<rect x="272" y="776.5" width="3" height="2.8" fill="#1a8590"/>
<rect x="275" y="777.3" width="4" height="2.8" fill="#c43c46"/>
<rect x="279" y="777.4" width="2" height="2.8" fill="#1a8590"/>
<rect x="281" y="777.9" width="2" height="2.8" fill="#c43c46"/>
<rect x="283" y="777.3" width="2" height="2.8" fill="#c43c46"/>
<rect x="286" y="777.8" width="2" height="2.8" fill="#c43c46"/>
<rect x="288" y="776.7" width="2" height="2.8" fill="#c43c46"/>
<rect x="290" y="777.6" width="2" height="2.8" fill="#1a8590"/>
<rect x="292" y="777.1" width="3" height="2.8" fill="#1a8590"/>
<rect x="295" y="777.0" width="2" height="2.8" fill="#c43c46"/>
<rect x="297" y="777.3" width="2" height="2.8" fill="#1a8590"/>
<rect x="299" y="776.9" width="2" height="2.8" fill="#c43c46"/>
<rect x="302" y="776.9" width="2" height="2.8" fill="#1a8590"/>
<rect x="304" y="776.6" width="2" height="2.8" fill="#c43c46"/>
<rect x="306" y="776.4" width="2" height="2.8" fill="#1a8590"/>
<rect x="308" y="776.4" width="3" height="2.8" fill="#c43c46"/>
<rect x="311" y="777.2" width="4" height="2.8" fill="#1a8590"/>
<rect x="315" y="777.4" width="2" height="2.8" fill="#1a8590"/>
<rect x="317" y="776.9" width="3" height="2.8" fill="#1a8590"/>
<rect x="320" y="777.4" width="2" height="2.8" fill="#1a8590"/>
<rect x="322" y="777.4" width="2" height="2.8" fill="#c43c46"/>
<rect x="324" y="777.4" width="4" height="2.8" fill="#c43c46"/>
<rect x="328" y="777.2" width="2" height="2.8" fill="#c43c46"/>
<rect x="330" y="777.2" width="2" height="2.8" fill="#1a8590"/>
<rect x="332" y="777.4" width="4" height="2.8" fill="#1a8590"/>
<rect x="337" y="776.6" width="2" height="2.8" fill="#c43c46"/>
<rect x="339" y="776.9" width="2" height="2.8" fill="#1a8590"/>
<rect x="342" y="777.1" width="4" height="2.8" fill="#c43c46"/>
<rect x="346" y="776.7" width="2" height="2.8" fill="#1a8590"/>
<rect x="348" y="776.9" width="4" height="2.8" fill="#1a8590"/>
<rect x="352" y="777.1" width="3" height="2.8" fill="#c43c46"/>
<rect x="355" y="776.2" width="2" height="2.8" fill="#1a8590"/>
<rect x="357" y="776.9" width="2" height="2.8" fill="#1a8590"/>
<rect x="359" y="775.9" width="2" height="2.8" fill="#1a8590"/>
<rect x="361" y="775.8" width="4" height="2.8" fill="#c43c46"/>
<rect x="365" y="776.5" width="4" height="2.8" fill="#1a8590"/>
<rect x="369" y="776.6" width="2" height="2.8" fill="#c43c46"/>
<rect x="371" y="776.1" width="3" height="2.8" fill="#1a8590"/>
<rect x="374" y="775.5" width="2" height="2.8" fill="#c43c46"/>
<rect x="376" y="776.4" width="4" height="2.8" fill="#1a8590"/>
<rect x="380" y="775.4" width="2" height="2.8" fill="#c43c46"/>
<rect x="382" y="775.2" width="3" height="2.8" fill="#c43c46"/>
<rect x="385" y="775.1" width="2" height="2.8" fill="#c43c46"/>
<rect x="387" y="775.5" width="2" height="2.8" fill="#c43c46"/>
<rect x="389" y="774.9" width="2" height="2.8" fill="#1a8590"/>
<rect x="391" y="775.3" width="3" height="2.8" fill="#c43c46"/>
<rect x="394" y="774.6" width="4" height="2.8" fill="#1a8590"/>
<rect x="398" y="774.9" width="2" height="2.8" fill="#c43c46"/>
<rect x="401" y="775.0" width="2" height="2.8" fill="#1a8590"/>
<rect x="403" y="774.9" width="2" height="2.8" fill="#c43c46"/>
<rect x="405" y="775.3" width="2" height="2.8" fill="#1a8590"/>
<rect x="407" y="774.9" width="2" height="2.8" fill="#c43c46"/>
<rect x="409" y="776.1" width="2" height="2.8" fill="#c43c46"/>
<rect x="411" y="775.7" width="2" height="2.8" fill="#1a8590"/>
<rect x="413" y="775.9" width="3" height="2.8" fill="#1a8590"/>
<rect x="416" y="775.5" width="2" height="2.8" fill="#1a8590"/>
<rect x="418" y="775.9" width="2" height="2.8" fill="#1a8590"/>
<rect x="420" y="776.4" width="2" height="2.8" fill="#c43c46"/>
<rect x="422" y="776.5" width="2" height="2.8" fill="#1a8590"/>
<rect x="424" y="777.0" width="4" height="2.8" fill="#1a8590"/>
<rect x="428" y="777.5" width="4" height="2.8" fill="#c43c46"/>
<rect x="432" y="777.8" width="3" height="2.8" fill="#1a8590"/>
<rect x="435" y="777.8" width="2" height="2.8" fill="#1a8590"/>
<rect x="437" y="777.8" width="2" height="2.8" fill="#c43c46"/>
<rect x="439" y="778.7" width="4" height="2.8" fill="#1a8590"/>
<rect x="443" y="778.7" width="4" height="2.8" fill="#c43c46"/>
<rect x="447" y="778.9" width="2" height="2.8" fill="#1a8590"/>
<rect x="449" y="778.2" width="2" height="2.8" fill="#c43c46"/>
<rect x="451" y="778.0" width="2" height="2.8" fill="#1a8590"/>
<rect x="453" y="777.3" width="3" height="2.8" fill="#c43c46"/>
<rect x="456" y="777.3" width="3" height="2.8" fill="#1a8590"/>
<rect x="459" y="777.0" width="3" height="2.8" fill="#c43c46"/>
<rect x="462" y="777.8" width="2" height="2.8" fill="#c43c46"/>
<rect x="464" y="776.7" width="2" height="2.8" fill="#1a8590"/>
<rect x="466" y="776.7" width="3" height="2.8" fill="#c43c46"/>
<rect x="469" y="776.6" width="3" height="2.8" fill="#1a8590"/>
<rect x="472" y="777.3" width="2" height="2.8" fill="#c43c46"/>
<rect x="474" y="776.3" width="2" height="2.8" fill="#1a8590"/>
<rect x="476" y="776.7" width="2" height="2.8" fill="#c43c46"/>
<rect x="479" y="776.6" width="2" height="2.8" fill="#c43c46"/>
<rect x="481" y="776.6" width="3" height="2.8" fill="#c43c46"/>
<rect x="484" y="776.2" width="2" height="2.8" fill="#1a8590"/>
<rect x="486" y="776.9" width="4" height="2.8" fill="#c43c46"/>
<rect x="490" y="775.9" width="2" height="2.8" fill="#1a8590"/>
<rect x="492" y="775.8" width="2" height="2.8" fill="#c43c46"/>
<rect x="494" y="776.8" width="2" height="2.8" fill="#1a8590"/>
<rect x="496" y="775.7" width="4" height="2.8" fill="#c43c46"/>
<rect x="500" y="776.5" width="2" height="2.8" fill="#1a8590"/>
<rect x="502" y="776.5" width="2" height="2.8" fill="#c43c46"/>
<rect x="504" y="776.1" width="3" height="2.8" fill="#1a8590"/>
<rect x="507" y="775.8" width="2" height="2.8" fill="#c43c46"/>
<rect x="509" y="775.6" width="2" height="2.8" fill="#1a8590"/>
<rect x="511" y="775.6" width="4" height="2.8" fill="#1a8590"/>
<rect x="515" y="776.6" width="2" height="2.8" fill="#c43c46"/>
<rect x="517" y="776.1" width="2" height="2.8" fill="#1a8590"/>
<rect x="519" y="776.5" width="2" height="2.8" fill="#1a8590"/>
<rect x="521" y="776.0" width="2" height="2.8" fill="#c43c46"/>
<rect x="523" y="776.3" width="2" height="2.8" fill="#1a8590"/>
<rect x="525" y="776.0" width="2" height="2.8" fill="#c43c46"/>
<rect x="527" y="775.7" width="2" height="2.8" fill="#c43c46"/>
<rect x="529" y="776.3" width="2" height="2.8" fill="#1a8590"/>
<rect x="531" y="776.0" width="2" height="2.8" fill="#c43c46"/>
<rect x="533" y="776.2" width="4" height="2.8" fill="#1a8590"/>
<rect x="537" y="775.4" width="2" height="2.8" fill="#c43c46"/>
<rect x="539" y="776.4" width="2" height="2.8" fill="#c43c46"/>
<rect x="541" y="776.4" width="2" height="2.8" fill="#1a8590"/>
<rect x="543" y="775.3" width="4" height="2.8" fill="#1a8590"/>
<rect x="547" y="776.3" width="2" height="2.8" fill="#1a8590"/>
<rect x="549" y="775.8" width="4" height="2.8" fill="#1a8590"/>
<rect x="553" y="775.7" width="2" height="2.8" fill="#c43c46"/>
<rect x="556" y="775.7" width="2" height="2.8" fill="#1a8590"/>
<rect x="558" y="775.2" width="2" height="2.8" fill="#c43c46"/>
<rect x="560" y="775.6" width="2" height="2.8" fill="#1a8590"/>
<rect x="562" y="776.1" width="2" height="2.8" fill="#1a8590"/>
<rect x="564" y="775.6" width="2" height="2.8" fill="#c43c46"/>
<rect x="566" y="775.6" width="2" height="2.8" fill="#1a8590"/>
<rect x="568" y="776.0" width="2" height="2.8" fill="#c43c46"/>
<rect x="570" y="775.5" width="2" height="2.8" fill="#c43c46"/>
<rect x="572" y="776.0" width="2" height="2.8" fill="#1a8590"/>
<rect x="574" y="775.5" width="3" height="2.8" fill="#c43c46"/>
<rect x="577" y="775.9" width="3" height="2.8" fill="#1a8590"/>
<rect x="580" y="775.4" width="2" height="2.8" fill="#c43c46"/>
<rect x="582" y="775.8" width="3" height="2.8" fill="#1a8590"/>
<rect x="586" y="774.9" width="2" height="2.8" fill="#1a8590"/>
<rect x="588" y="775.1" width="4" height="2.8" fill="#c43c46"/>
<rect x="592" y="774.8" width="2" height="2.8" fill="#c43c46"/>
<rect x="595" y="775.5" width="2" height="2.8" fill="#c43c46"/>
<rect x="597" y="775.2" width="4" height="2.8" fill="#1a8590"/>
<rect x="601" y="775.1" width="2" height="2.8" fill="#c43c46"/>
<rect x="603" y="774.5" width="2" height="2.8" fill="#1a8590"/>
<rect x="605" y="774.8" width="2" height="2.8" fill="#c43c46"/>
<rect x="607" y="774.7" width="2" height="2.8" fill="#1a8590"/>
<rect x="609" y="774.1" width="2" height="2.8" fill="#1a8590"/>
<rect x="611" y="775.1" width="2" height="2.8" fill="#c43c46"/>
<rect x="613" y="774.5" width="2" height="2.8" fill="#c43c46"/>
<rect x="615" y="774.8" width="4" height="2.8" fill="#1a8590"/>
<rect x="619" y="774.3" width="4" height="2.8" fill="#1a8590"/>
<rect x="623" y="774.2" width="3" height="2.8" fill="#c43c46"/>
<rect x="626" y="773.7" width="2" height="2.8" fill="#c43c46"/>
<rect x="628" y="774.2" width="2" height="2.8" fill="#1a8590"/>
<rect x="630" y="773.5" width="2" height="2.8" fill="#c43c46"/>
<rect x="632" y="773.2" width="2" height="2.8" fill="#1a8590"/>
<rect x="634" y="773.6" width="2" height="2.8" fill="#c43c46"/>
<rect x="636" y="773.5" width="2" height="2.8" fill="#c43c46"/>
<rect x="638" y="772.9" width="2" height="2.8" fill="#1a8590"/>
<rect x="640" y="772.7" width="3" height="2.8" fill="#c43c46"/>
<rect x="643" y="773.1" width="2" height="2.8" fill="#1a8590"/>
<rect x="645" y="772.5" width="4" height="2.8" fill="#1a8590"/>
<rect x="649" y="772.6" width="4" height="2.8" fill="#c43c46"/>
<rect x="653" y="772.6" width="2" height="2.8" fill="#1a8590"/>
<rect x="655" y="773.5" width="2" height="2.8" fill="#1a8590"/>
<rect x="657" y="773.0" width="2" height="2.8" fill="#1a8590"/>
<rect x="659" y="772.5" width="2" height="2.8" fill="#c43c46"/>
<rect x="661" y="772.5" width="2" height="2.8" fill="#1a8590"/>
<rect x="663" y="772.7" width="2" height="2.8" fill="#c43c46"/>
<rect x="665" y="773.1" width="2" height="2.8" fill="#1a8590"/>
<rect x="667" y="773.6" width="2" height="2.8" fill="#c43c46"/>
<rect x="669" y="773.4" width="2" height="2.8" fill="#1a8590"/>
<rect x="671" y="773.1" width="2" height="2.8" fill="#1a8590"/>
<rect x="673" y="773.5" width="2" height="2.8" fill="#c43c46"/>
<rect x="675" y="774.5" width="2" height="2.8" fill="#c43c46"/>
<rect x="677" y="775.2" width="2" height="2.8" fill="#1a8590"/>
<rect x="679" y="775.4" width="2" height="2.8" fill="#c43c46"/>
<rect x="681" y="777.4" width="4" height="2.8" fill="#1a8590"/>
<rect x="685" y="779.5" width="3" height="2.8" fill="#c43c46"/>
<rect x="688" y="780.0" width="2" height="2.8" fill="#1a8590"/>
<rect x="690" y="780.4" width="2" height="2.8" fill="#c43c46"/>
<rect x="692" y="779.6" width="2" height="2.8" fill="#c43c46"/>
<rect x="694" y="780.0" width="2" height="2.8" fill="#c43c46"/>
<rect x="696" y="779.9" width="2" height="2.8" fill="#c43c46"/>
<rect x="698" y="778.8" width="2" height="2.8" fill="#1a8590"/>
<rect x="700" y="778.8" width="3" height="2.8" fill="#c43c46"/>
<rect x="703" y="779.0" width="2" height="2.8" fill="#1a8590"/>
<rect x="705" y="778.3" width="2" height="2.8" fill="#c43c46"/>
<rect x="707" y="778.8" width="2" height="2.8" fill="#c43c46"/>
<rect x="710" y="778.3" width="4" height="2.8" fill="#c43c46"/>
<rect x="714" y="778.6" width="3" height="2.8" fill="#1a8590"/>
<rect x="717" y="778.2" width="4" height="2.8" fill="#1a8590"/>
<rect x="721" y="777.4" width="2" height="2.8" fill="#c43c46"/>
<rect x="724" y="776.8" width="2" height="2.8" fill="#1a8590"/>
<rect x="726" y="776.3" width="2" height="2.8" fill="#1a8590"/>
<rect x="728" y="775.4" width="2" height="2.8" fill="#1a8590"/>
<rect x="730" y="774.9" width="2" height="2.8" fill="#c43c46"/>
<rect x="732" y="775.6" width="2" height="2.8" fill="#1a8590"/>
<rect x="734" y="775.9" width="4" height="2.8" fill="#c43c46"/>
<rect x="738" y="775.4" width="4" height="2.8" fill="#1a8590"/>
<rect x="742" y="775.9" width="2" height="2.8" fill="#1a8590"/>
<rect x="744" y="776.9" width="2" height="2.8" fill="#c43c46"/>
<rect x="746" y="776.3" width="2" height="2.8" fill="#1a8590"/>
<rect x="748" y="776.7" width="2" height="2.8" fill="#c43c46"/>
<rect x="750" y="776.5" width="2" height="2.8" fill="#c43c46"/>
<rect x="752" y="776.4" width="2" height="2.8" fill="#c43c46"/>
<rect x="754" y="776.3" width="2" height="2.8" fill="#1a8590"/>
<rect x="756" y="775.9" width="2" height="2.8" fill="#1a8590"/>
<rect x="758" y="775.3" width="2" height="2.8" fill="#c43c46"/>
<rect x="760" y="775.8" width="2" height="2.8" fill="#1a8590"/>
<rect x="762" y="775.7" width="2" height="2.8" fill="#c43c46"/>
<rect x="764" y="775.6" width="3" height="2.8" fill="#1a8590"/>
<rect x="767" y="775.8" width="2" height="2.8" fill="#1a8590"/>
<rect x="769" y="775.7" width="2" height="2.8" fill="#c43c46"/>
<rect x="771" y="775.3" width="2" height="2.8" fill="#1a8590"/>
<rect x="773" y="775.2" width="2" height="2.8" fill="#c43c46"/>
<rect x="775" y="774.8" width="2" height="2.8" fill="#1a8590"/>
<rect x="777" y="775.3" width="2" height="2.8" fill="#c43c46"/>
<rect x="779" y="775.1" width="4" height="2.8" fill="#1a8590"/>
<rect x="783" y="775.2" width="2" height="2.8" fill="#1a8590"/>
<rect x="785" y="775.1" width="2" height="2.8" fill="#c43c46"/>
<rect x="787" y="774.0" width="3" height="2.8" fill="#1a8590"/>
<rect x="790" y="773.9" width="2" height="2.8" fill="#c43c46"/>
<rect x="792" y="774.2" width="2" height="2.8" fill="#1a8590"/>
<rect x="794" y="774.1" width="2" height="2.8" fill="#c43c46"/>
<rect x="796" y="774.0" width="3" height="2.8" fill="#1a8590"/>
<rect x="799" y="773.4" width="2" height="2.8" fill="#c43c46"/>
<rect x="801" y="773.9" width="2" height="2.8" fill="#c43c46"/>
<rect x="803" y="774.5" width="4" height="2.8" fill="#1a8590"/>
<rect x="807" y="773.6" width="2" height="2.8" fill="#1a8590"/>
<rect x="809" y="774.5" width="3" height="2.8" fill="#c43c46"/>
<rect x="812" y="774.5" width="2" height="2.8" fill="#1a8590"/>
<rect x="814" y="773.8" width="2" height="2.8" fill="#1a8590"/>
<rect x="817" y="774.1" width="3" height="2.8" fill="#c43c46"/>
<rect x="820" y="773.8" width="2" height="2.8" fill="#1a8590"/>
<rect x="822" y="773.7" width="3" height="2.8" fill="#c43c46"/>
<rect x="825" y="774.2" width="2" height="2.8" fill="#1a8590"/>
<rect x="827" y="773.6" width="4" height="2.8" fill="#c43c46"/>
<rect x="831" y="773.4" width="2" height="2.8" fill="#1a8590"/>
<rect x="833" y="773.1" width="4" height="2.8" fill="#c43c46"/>
<rect x="837" y="772.7" width="2" height="2.8" fill="#1a8590"/>
<rect x="839" y="772.0" width="2" height="2.8" fill="#1a8590"/>
<rect x="841" y="772.2" width="2" height="2.8" fill="#c43c46"/>
<rect x="843" y="772.1" width="2" height="2.8" fill="#1a8590"/>
<rect x="845" y="771.5" width="2" height="2.8" fill="#1a8590"/>
<rect x="847" y="771.7" width="4" height="2.8" fill="#c43c46"/>
<rect x="851" y="771.1" width="2" height="2.8" fill="#c43c46"/>
<rect x="854" y="771.3" width="3" height="2.8" fill="#1a8590"/>
<rect x="857" y="770.9" width="4" height="2.8" fill="#1a8590"/>
<rect x="861" y="771.1" width="2" height="2.8" fill="#1a8590"/>
<rect x="863" y="771.6" width="2" height="2.8" fill="#c43c46"/>
<rect x="865" y="771.3" width="4" height="2.8" fill="#c43c46"/>
<rect x="869" y="770.4" width="3" height="2.8" fill="#1a8590"/>
<rect x="872" y="770.7" width="4" height="2.8" fill="#c43c46"/>
<rect x="876" y="770.0" width="2" height="2.8" fill="#c43c46"/>
<rect x="878" y="769.8" width="2" height="2.8" fill="#1a8590"/>
<rect x="880" y="770.2" width="3" height="2.8" fill="#c43c46"/>
<rect x="884" y="769.4" width="4" height="2.8" fill="#c43c46"/>
<rect x="888" y="770.2" width="4" height="2.8" fill="#1a8590"/>
<rect x="892" y="769.8" width="2" height="2.8" fill="#c43c46"/>
<rect x="894" y="769.8" width="2" height="2.8" fill="#c43c46"/>
<rect x="896" y="769.9" width="2" height="2.8" fill="#c43c46"/>
<rect x="898" y="769.1" width="2" height="2.8" fill="#c43c46"/>
<rect x="900" y="769.8" width="2" height="2.8" fill="#1a8590"/>
<rect x="902" y="769.2" width="4" height="2.8" fill="#c43c46"/>
<rect x="906" y="769.6" width="2" height="2.8" fill="#1a8590"/>
<rect x="908" y="769.0" width="2" height="2.8" fill="#c43c46"/>
<rect x="910" y="768.5" width="2" height="2.8" fill="#1a8590"/>
<rect x="912" y="769.2" width="2" height="2.8" fill="#c43c46"/>
<rect x="914" y="768.4" width="2" height="2.8" fill="#1a8590"/>
<rect x="916" y="768.3" width="2" height="2.8" fill="#1a8590"/>
<rect x="918" y="769.0" width="4" height="2.8" fill="#c43c46"/>
<rect x="922" y="768.6" width="2" height="2.8" fill="#1a8590"/>
<rect x="924" y="768.6" width="2" height="2.8" fill="#c43c46"/>
<rect x="927" y="768.5" width="2" height="2.8" fill="#c43c46"/>
<rect x="929" y="768.1" width="4" height="2.8" fill="#1a8590"/>
<rect x="933" y="768.6" width="3" height="2.8" fill="#1a8590"/>
<rect x="936" y="767.9" width="2" height="2.8" fill="#c43c46"/>
<rect x="938" y="767.7" width="2" height="2.8" fill="#c43c46"/>
<rect x="940" y="768.6" width="2" height="2.8" fill="#c43c46"/>
<rect x="942" y="768.1" width="2" height="2.8" fill="#1a8590"/>
<rect x="944" y="768.6" width="2" height="2.8" fill="#c43c46"/>
<rect x="947" y="767.7" width="4" height="2.8" fill="#1a8590"/>
<rect x="951" y="768.2" width="2" height="2.8" fill="#c43c46"/>
<rect x="953" y="767.8" width="4" height="2.8" fill="#1a8590"/>
<rect x="957" y="768.0" width="3" height="2.8" fill="#c43c46"/>
<rect x="960" y="768.0" width="2" height="2.8" fill="#1a8590"/>
<rect x="962" y="768.1" width="2" height="2.8" fill="#c43c46"/>
<rect x="964" y="767.6" width="2" height="2.8" fill="#1a8590"/>
<rect x="966" y="768.1" width="2" height="2.8" fill="#c43c46"/>
<rect x="968" y="767.6" width="2" height="2.8" fill="#c43c46"/>
<rect x="970" y="768.0" width="4" height="2.8" fill="#1a8590"/>
<rect x="974" y="768.2" width="2" height="2.8" fill="#c43c46"/>
<rect x="976" y="767.4" width="3" height="2.8" fill="#1a8590"/>
<rect x="979" y="768.2" width="2" height="2.8" fill="#c43c46"/>
<rect x="981" y="767.3" width="2" height="2.8" fill="#c43c46"/>
<rect x="983" y="767.8" width="2" height="2.8" fill="#1a8590"/>
<rect x="985" y="767.3" width="2" height="2.8" fill="#1a8590"/>
<rect x="987" y="767.8" width="2" height="2.8" fill="#c43c46"/>
<rect x="989" y="767.8" width="2" height="2.8" fill="#1a8590"/>
<rect x="991" y="767.9" width="3" height="2.8" fill="#c43c46"/>
<rect x="994" y="768.4" width="2" height="2.8" fill="#1a8590"/>
<rect x="996" y="767.9" width="4" height="2.8" fill="#c43c46"/>
<rect x="1000" y="767.8" width="3" height="2.8" fill="#1a8590"/>
<rect x="1003" y="768.2" width="4" height="2.8" fill="#1a8590"/>
<rect x="1007" y="768.2" width="2" height="2.8" fill="#c43c46"/>
<rect x="1009" y="768.1" width="2" height="2.8" fill="#1a8590"/>
<rect x="1011" y="767.6" width="2" height="2.8" fill="#c43c46"/>
<rect x="1013" y="767.5" width="4" height="2.8" fill="#1a8590"/>
<rect x="1017" y="767.4" width="2" height="2.8" fill="#c43c46"/>
<rect x="1019" y="767.1" width="4" height="2.8" fill="#1a8590"/>
<rect x="1023" y="767.3" width="2" height="2.8" fill="#1a8590"/>
<rect x="1026" y="767.5" width="2" height="2.8" fill="#1a8590"/>
<rect x="1028" y="766.9" width="4" height="2.8" fill="#c43c46"/>
<rect x="1032" y="767.1" width="2" height="2.8" fill="#1a8590"/>
<rect x="1034" y="766.5" width="4" height="2.8" fill="#c43c46"/>
<rect x="1038" y="766.9" width="2" height="2.8" fill="#1a8590"/>
<rect x="1040" y="767.5" width="2" height="2.8" fill="#1a8590"/>
<rect x="1042" y="766.7" width="3" height="2.8" fill="#c43c46"/>
<rect x="1045" y="766.9" width="3" height="2.8" fill="#c43c46"/>
<rect x="1048" y="767.1" width="2" height="2.8" fill="#1a8590"/>
<rect x="1050" y="768.2" width="2" height="2.8" fill="#c43c46"/>
<rect x="1052" y="767.9" width="2" height="2.8" fill="#1a8590"/>
<rect x="1054" y="768.1" width="3" height="2.8" fill="#1a8590"/>
<rect x="1057" y="767.8" width="2" height="2.8" fill="#c43c46"/>
<rect x="1059" y="769.0" width="4" height="2.8" fill="#c43c46"/>
<rect x="1063" y="768.4" width="2" height="2.8" fill="#1a8590"/>
<rect x="1065" y="768.9" width="4" height="2.8" fill="#c43c46"/>
<rect x="1069" y="769.6" width="2" height="2.8" fill="#1a8590"/>
<rect x="1071" y="769.0" width="2" height="2.8" fill="#c43c46"/>
<rect x="1073" y="769.4" width="2" height="2.8" fill="#1a8590"/>
<rect x="1076" y="770.2" width="2" height="2.8" fill="#c43c46"/>
<rect x="1078" y="769.8" width="2" height="2.8" fill="#c43c46"/>
<rect x="1080" y="770.4" width="2" height="2.8" fill="#1a8590"/>
<rect x="1082" y="770.0" width="2" height="2.8" fill="#c43c46"/>
<rect x="1084" y="770.3" width="2" height="2.8" fill="#c43c46"/>
<rect x="1086" y="770.1" width="2" height="2.8" fill="#c43c46"/>
<rect x="1088" y="769.8" width="2" height="2.8" fill="#1a8590"/>
<rect x="1090" y="770.5" width="4" height="2.8" fill="#1a8590"/>
<rect x="1094" y="770.0" width="2" height="2.8" fill="#c43c46"/>
<rect x="1096" y="770.0" width="2" height="2.8" fill="#c43c46"/>
<rect x="1098" y="770.9" width="3" height="2.8" fill="#c43c46"/>
<rect x="1101" y="770.8" width="2" height="2.8" fill="#1a8590"/>
<rect x="1103" y="771.1" width="2" height="2.8" fill="#1a8590"/>
<rect x="1105" y="770.7" width="2" height="2.8" fill="#c43c46"/>
<rect x="1107" y="770.8" width="2" height="2.8" fill="#1a8590"/>
<rect x="1109" y="771.2" width="2" height="2.8" fill="#c43c46"/>
<rect x="1111" y="771.5" width="2" height="2.8" fill="#1a8590"/>
<rect x="1113" y="771.4" width="2" height="2.8" fill="#c43c46"/>
<rect x="1115" y="771.2" width="2" height="2.8" fill="#c43c46"/>
<rect x="1117" y="771.3" width="3" height="2.8" fill="#1a8590"/>
<rect x="1120" y="771.9" width="2" height="2.8" fill="#1a8590"/>
<rect x="1122" y="772.1" width="4" height="2.8" fill="#c43c46"/>
<rect x="1126" y="772.3" width="3" height="2.8" fill="#1a8590"/>
<rect x="1129" y="771.4" width="2" height="2.8" fill="#1a8590"/>
<rect x="1131" y="771.5" width="2" height="2.8" fill="#c43c46"/>
<rect x="1133" y="771.3" width="4" height="2.8" fill="#1a8590"/>
<rect x="1137" y="771.3" width="4" height="2.8" fill="#c43c46"/>
<rect x="1141" y="770.8" width="3" height="2.8" fill="#c43c46"/>
<rect x="1144" y="771.2" width="2" height="2.8" fill="#1a8590"/>
<rect x="1146" y="770.8" width="2" height="2.8" fill="#c43c46"/>
<rect x="1148" y="770.9" width="3" height="2.8" fill="#1a8590"/>
<rect x="1151" y="769.9" width="2" height="2.8" fill="#c43c46"/>
<rect x="1153" y="770.0" width="2" height="2.8" fill="#1a8590"/>
<rect x="1155" y="769.6" width="4" height="2.8" fill="#c43c46"/>
<rect x="1159" y="770.2" width="3" height="2.8" fill="#1a8590"/>
<rect x="1162" y="769.6" width="2" height="2.8" fill="#c43c46"/>
<rect x="1164" y="770.8" width="2" height="2.8" fill="#1a8590"/>
<rect x="1166" y="770.8" width="3" height="2.8" fill="#c43c46"/>
<rect x="1169" y="771.2" width="2" height="2.8" fill="#1a8590"/>
<rect x="1171" y="770.5" width="4" height="2.8" fill="#c43c46"/>
<rect x="1175" y="770.9" width="2" height="2.8" fill="#1a8590"/>
<rect x="1177" y="771.4" width="2" height="2.8" fill="#c43c46"/>
<rect x="1180" y="771.6" width="4" height="2.8" fill="#c43c46"/>
<rect x="1184" y="772.3" width="3" height="2.8" fill="#c43c46"/>
<rect x="1187" y="772.6" width="2" height="2.8" fill="#1a8590"/>
<rect x="1189" y="772.3" width="3" height="2.8" fill="#c43c46"/>
<rect x="1193" y="771.6" width="3" height="2.8" fill="#1a8590"/>
<rect x="1196" y="771.7" width="2" height="2.8" fill="#1a8590"/>
<rect x="1198" y="771.7" width="2" height="2.8" fill="#c43c46"/>
<rect x="1200" y="770.9" width="4" height="2.8" fill="#1a8590"/>
<rect x="1204" y="770.9" width="3" height="2.8" fill="#1a8590"/>
<rect x="1207" y="770.3" width="2" height="2.8" fill="#c43c46"/>
<rect x="1209" y="769.7" width="4" height="2.8" fill="#1a8590"/>
<rect x="1213" y="769.6" width="2" height="2.8" fill="#c43c46"/>
<rect x="1215" y="770.5" width="3" height="2.8" fill="#1a8590"/>
<rect x="1218" y="770.4" width="2" height="2.8" fill="#1a8590"/>
<rect x="1220" y="769.3" width="2" height="2.8" fill="#c43c46"/>
<rect x="1222" y="769.8" width="3" height="2.8" fill="#1a8590"/>
<rect x="1225" y="769.2" width="2" height="2.8" fill="#c43c46"/>
<rect x="1227" y="770.1" width="2" height="2.8" fill="#1a8590"/>
<rect x="1229" y="769.5" width="3" height="2.8" fill="#c43c46"/>
<rect x="1232" y="769.4" width="3" height="2.8" fill="#1a8590"/>
<rect x="1235" y="769.7" width="2" height="2.8" fill="#c43c46"/>
<rect x="1237" y="769.2" width="2" height="2.8" fill="#c43c46"/>
<rect x="1239" y="770.0" width="2" height="2.8" fill="#c43c46"/>
<rect x="1241" y="769.5" width="2" height="2.8" fill="#1a8590"/>
<rect x="1243" y="769.5" width="3" height="2.8" fill="#1a8590"/>
<rect x="1246" y="769.9" width="4" height="2.8" fill="#c43c46"/>
<rect x="1250" y="769.1" width="3" height="2.8" fill="#1a8590"/>
<rect x="1253" y="770.0" width="3" height="2.8" fill="#1a8590"/>
<rect x="1256" y="770.2" width="2" height="2.8" fill="#c43c46"/>
<rect x="1258" y="769.7" width="2" height="2.8" fill="#1a8590"/>
<rect x="1260" y="769.8" width="2" height="2.8" fill="#c43c46"/>
<rect x="1262" y="769.5" width="2" height="2.8" fill="#1a8590"/>
<rect x="1264" y="770.1" width="3" height="2.8" fill="#1a8590"/>
<rect x="1267" y="769.4" width="2" height="2.8" fill="#c43c46"/>
<rect x="1269" y="769.6" width="2" height="2.8" fill="#1a8590"/>
<rect x="1271" y="769.5" width="4" height="2.8" fill="#1a8590"/>
<rect x="1275" y="769.7" width="2" height="2.8" fill="#c43c46"/>
<rect x="1277" y="769.1" width="2" height="2.8" fill="#1a8590"/>
<rect x="1279" y="769.9" width="2" height="2.8" fill="#1a8590"/>
<rect x="1281" y="769.8" width="2" height="2.8" fill="#1a8590"/>
<rect x="1283" y="769.7" width="2" height="2.8" fill="#c43c46"/>
<rect x="1285" y="769.1" width="3" height="2.8" fill="#1a8590"/>
<rect x="1288" y="769.8" width="2" height="2.8" fill="#c43c46"/>
<rect x="1290" y="769.2" width="3" height="2.8" fill="#1a8590"/>
<rect x="1293" y="769.1" width="2" height="2.8" fill="#1a8590"/>
<rect x="1295" y="769.0" width="2" height="2.8" fill="#c43c46"/>
<rect x="1297" y="768.5" width="2" height="2.8" fill="#c43c46"/>
<rect x="1299" y="768.4" width="3" height="2.8" fill="#1a8590"/>
<rect x="1302" y="769.2" width="3" height="2.8" fill="#c43c46"/>
<rect x="1305" y="768.8" width="2" height="2.8" fill="#1a8590"/>
<rect x="1307" y="768.8" width="3" height="2.8" fill="#1a8590"/>
<rect x="1310" y="768.5" width="2" height="2.8" fill="#1a8590"/>
<rect x="1312" y="769.0" width="2" height="2.8" fill="#c43c46"/>
<rect x="1314" y="768.2" width="4" height="2.8" fill="#1a8590"/>
<rect x="1318" y="768.1" width="4" height="2.8" fill="#1a8590"/>
<rect x="1322" y="768.9" width="2" height="2.8" fill="#c43c46"/>
<rect x="1324" y="769.1" width="2" height="2.8" fill="#1a8590"/>
<rect x="1326" y="768.3" width="2" height="2.8" fill="#c43c46"/>
<rect x="1328" y="768.2" width="2" height="2.8" fill="#1a8590"/>
<rect x="1330" y="768.0" width="2" height="2.8" fill="#c43c46"/>
<rect x="1332" y="768.0" width="2" height="2.8" fill="#c43c46"/>
<rect x="1334" y="769.0" width="3" height="2.8" fill="#1a8590"/>
<rect x="1337" y="768.1" width="2" height="2.8" fill="#1a8590"/>
<rect x="1339" y="768.9" width="2" height="2.8" fill="#c43c46"/>
<rect x="1341" y="769.0" width="3" height="2.8" fill="#c43c46"/>
<rect x="1344" y="768.6" width="2" height="2.8" fill="#1a8590"/>
<rect x="1346" y="768.7" width="2" height="2.8" fill="#c43c46"/>
<rect x="1348" y="768.2" width="2" height="2.8" fill="#1a8590"/>
<rect x="1350" y="768.5" width="2" height="2.8" fill="#c43c46"/>
<rect x="1352" y="769.2" width="2" height="2.8" fill="#c43c46"/>
<rect x="1354" y="769.0" width="4" height="2.8" fill="#c43c46"/>
<rect x="1358" y="769.6" width="2" height="2.8" fill="#c43c46"/>
<rect x="1360" y="768.9" width="2" height="2.8" fill="#1a8590"/>
<rect x="1362" y="769.3" width="4" height="2.8" fill="#c43c46"/>
<rect x="1366" y="769.4" width="2" height="2.8" fill="#1a8590"/>
<rect x="1368" y="769.2" width="2" height="2.8" fill="#c43c46"/>
<rect x="1370" y="769.1" width="2" height="2.8" fill="#1a8590"/>
<rect x="1372" y="769.3" width="2" height="2.8" fill="#c43c46"/>
<rect x="1374" y="769.7" width="2" height="2.8" fill="#1a8590"/>
<rect x="1376" y="770.3" width="3" height="2.8" fill="#c43c46"/>
<rect x="1379" y="769.9" width="3" height="2.8" fill="#c43c46"/>
<rect x="1382" y="769.7" width="2" height="2.8" fill="#1a8590"/>
<rect x="1384" y="769.0" width="2" height="2.8" fill="#1a8590"/>
<rect x="1386" y="768.9" width="2" height="2.8" fill="#c43c46"/>
<rect x="1388" y="769.7" width="2" height="2.8" fill="#c43c46"/>
<rect x="1390" y="768.7" width="3" height="2.8" fill="#1a8590"/>
<rect x="1393" y="768.8" width="3" height="2.8" fill="#c43c46"/>
<rect x="1396" y="768.9" width="2" height="2.8" fill="#1a8590"/>
<rect x="1398" y="768.2" width="2" height="2.8" fill="#c43c46"/>
<rect x="1400" y="767.8" width="2" height="2.8" fill="#1a8590"/>
<rect x="1402" y="768.0" width="4" height="2.8" fill="#1a8590"/>
<rect x="1406" y="768.2" width="2" height="2.8" fill="#c43c46"/>
<rect x="1408" y="767.2" width="2" height="2.8" fill="#1a8590"/>
<rect x="1410" y="767.2" width="4" height="2.8" fill="#c43c46"/>
<rect x="1414" y="766.9" width="2" height="2.8" fill="#c43c46"/>
<rect x="1416" y="766.6" width="4" height="2.8" fill="#1a8590"/>
<rect x="1420" y="766.2" width="2" height="2.8" fill="#c43c46"/>
<rect x="1422" y="765.5" width="4" height="2.8" fill="#1a8590"/>
<rect x="1427" y="765.7" width="2" height="2.8" fill="#c43c46"/>
<rect x="1429" y="764.9" width="3" height="2.8" fill="#1a8590"/>
<rect x="1432" y="764.4" width="2" height="2.8" fill="#c43c46"/>
<rect x="1434" y="764.9" width="4" height="2.8" fill="#1a8590"/>
<rect x="1438" y="764.4" width="2" height="2.8" fill="#1a8590"/>
<rect x="1440" y="764.9" width="2" height="2.8" fill="#c43c46"/>
<rect x="1442" y="765.2" width="2" height="2.8" fill="#1a8590"/>
<rect x="1444" y="764.6" width="2" height="2.8" fill="#c43c46"/>
<rect x="1446" y="764.8" width="2" height="2.8" fill="#1a8590"/>
<rect x="1449" y="765.1" width="2" height="2.8" fill="#c43c46"/>
<rect x="1452" y="764.8" width="2" height="2.8" fill="#c43c46"/>
<rect x="1454" y="764.9" width="2" height="2.8" fill="#1a8590"/>
<rect x="1456" y="764.8" width="2" height="2.8" fill="#c43c46"/>
<rect x="1458" y="764.2" width="2" height="2.8" fill="#1a8590"/>
<rect x="1460" y="763.6" width="2" height="2.8" fill="#c43c46"/>
<rect x="1462" y="763.7" width="2" height="2.8" fill="#1a8590"/>
<rect x="1464" y="763.9" width="2" height="2.8" fill="#1a8590"/>
<rect x="1466" y="763.4" width="2" height="2.8" fill="#1a8590"/>
<rect x="1468" y="764.3" width="2" height="2.8" fill="#1a8590"/>
<rect x="1471" y="763.6" width="3" height="2.8" fill="#1a8590"/>
<rect x="1474" y="764.1" width="2" height="2.8" fill="#1a8590"/>
<rect x="1476" y="764.2" width="3" height="2.8" fill="#c43c46"/>
<rect x="1479" y="764.6" width="3" height="2.8" fill="#c43c46"/>
<rect x="1482" y="764.0" width="4" height="2.8" fill="#1a8590"/>
<rect x="1486" y="764.4" width="4" height="2.8" fill="#1a8590"/>
</g>
<rect x="1440.05" y="753.5" width="1.9" height="40.5" fill="#949494"/>
<rect x="1438.45" y="761.7" width="5.1" height="24" rx="2.4" fill="#999"/>
<rect x="1487.05" y="753.5" width="1.9" height="40.5" fill="#949494"/>
<rect x="1485.45" y="761.7" width="5.1" height="24" rx="2.4" fill="#999"/>
<path d="M1493.5,821 L1498,816.5 M1496,821 L1498,819" stroke="#666" stroke-width="1"/>
<text x="62.3" y="810" font-size="12" fill="#555" text-anchor="middle" font-weight="normal">2017</text>
<text x="256.3" y="810" font-size="12" fill="#555" text-anchor="middle" font-weight="normal">2018</text>
<text x="453.3" y="810" font-size="12" fill="#555" text-anchor="middle" font-weight="normal">2019</text>
<text x="648.3" y="810" font-size="12" fill="#555" text-anchor="middle" font-weight="normal">2020</text>
<text x="843.3" y="810" font-size="12" fill="#555" text-anchor="middle" font-weight="normal">2021</text>
<text x="1040.3" y="810" font-size="12" fill="#555" text-anchor="middle" font-weight="normal">2022</text>
<text x="1234.3" y="810" font-size="12" fill="#555" text-anchor="middle" font-weight="normal">2023</text>
<text x="1429.3" y="810" font-size="12" fill="#555" text-anchor="middle" font-weight="normal">2024</text>
<text x="0.9" y="810" font-size="12" fill="#555" text-anchor="start" font-weight="normal">16</text>
</g>
<rect x="0" y="0" width="1498" height="36" fill="#000"/>
<rect x="7" y="7" width="22" height="22" fill="#fff"/>
<rect x="9.1" y="9.4" width="17.6" height="1" fill="#ededed"/>
<rect x="9.1" y="12.9" width="17.6" height="1" fill="#ededed"/>
<rect x="9.1" y="16.6" width="17.6" height="1" fill="#ededed"/>
<rect x="9.1" y="20.9" width="17.6" height="1" fill="#ededed"/>
<rect x="9.1" y="25.0" width="17.6" height="1" fill="#ededed"/>
<path d="M9.9,24.6 L14.7,14.3 L19.2,19.7 L25.5,11.9" stroke="#0f8b99" stroke-width="2.4" fill="none" stroke-linejoin="miter"/>
<text x="39.2" y="22.6" font-size="12.2" fill="#fff" text-anchor="start" font-weight="normal" textLength="37.5" lengthAdjust="spacing">WALL</text>
<text x="82.8" y="22.6" font-size="12.2" fill="#fff" text-anchor="start" font-weight="normal" textLength="49.7" lengthAdjust="spacing">STREET,</text>
<text x="139.2" y="22.6" font-size="12.2" fill="#fff" text-anchor="start" font-weight="normal" textLength="40.0" lengthAdjust="spacing">DAILY</text>
<circle cx="196" cy="15.7" r="3.9" fill="none" stroke="#eee" stroke-width="1.4"/><path d="M198.8,18.6 L204.2,23.8" stroke="#eee" stroke-width="1.8" stroke-linecap="round"/>
<rect x="1428" y="23" width="13" height="2" fill="#e2e2e2"/>
<rect x="1450.9" y="15.9" width="8.1" height="8" fill="none" stroke="#e2e2e2" stroke-width="2"/>
<rect x="1455" y="19.1" width="6" height="2" fill="#e2e2e2"/>
<path d="M1460.4,17.1 L1464.8,20.1 L1460.4,23 z" fill="#e2e2e2"/>
<path d="M1461.9,9.9 v6.2 M1458.9,13 h6.1" stroke="#e2e2e2" stroke-width="2"/>
<path d="M1473.6,10.6 L1487.5,24.4 M1487.5,10.6 L1473.6,24.4" stroke="#d6d6d6" stroke-width="1.5"/>
<rect x="0" y="74" width="1498" height="1" fill="#6a6a6a" shape-rendering="crispEdges"/>
<text x="11.3" y="59.8" font-size="12.4" font-weight="bold" fill="#333" textLength="30.4" lengthAdjust="spacingAndGlyphs">Daily</text>
<path d="M47.5,53.8 h10 l-5,5z" fill="#555"/>
<text x="78" y="59.8" font-size="12.4" font-weight="bold" fill="#333" textLength="57.8" lengthAdjust="spacingAndGlyphs">Technical</text>
<path d="M142.5,53.8 h10 l-5,5z" fill="#555"/>
<text x="172.2" y="59.8" font-size="12.4" font-weight="bold" fill="#333" textLength="44.5" lengthAdjust="spacingAndGlyphs">Display</text>
<path d="M223.3,53.8 h10 l-5,5z" fill="#555"/>
<text x="253.7" y="59.8" font-size="12.4" font-weight="bold" fill="#333" textLength="31.0" lengthAdjust="spacingAndGlyphs">More</text>
<path d="M290.4,53.8 h10 l-5,5z" fill="#555"/>
<path d="M322.3,60.8 V50.4 a1,1 0 0 1 1,-1 h3.6 l1.4,1.6 h5.6 v2.4 h-8.2 l-2.6,6.6z M323.4,61.4 l2.8,-7 h11 l-2.9,7z" fill="#3a3a3a"/>
<path d="M357.2,48 h10 l3.4,3.2 v10.4 a1,1 0 0 1 -1,1 h-12.4 a1,1 0 0 1 -1,-1 v-12.6 a1,1 0 0 1 1,-1z M359,49.6 v4.2 h7.4 v-4.2z M358.6,56.6 v4.4 h9.6 v-4.4z" fill="#3a3a3a" fill-rule="evenodd"/>
<rect x="364" y="50.2" width="1.4" height="2.8" fill="#3a3a3a"/>
<rect x="388.8" y="53.6" width="12.8" height="3.6" fill="#111"/>
<rect x="420.8" y="53.6" width="12.8" height="3.6" fill="#111"/><rect x="425.4" y="49" width="3.6" height="12.8" fill="#111"/>
<text x="1184.2" y="60.7" font-size="12" fill="#333" text-anchor="start" font-weight="normal" textLength="112.8" lengthAdjust="spacing">CURRENT PRICE:</text>
<rect x="1315" y="43" width="83.8" height="23.8" fill="#c02c3a"/>
<rect x="1410" y="43" width="84" height="23.8" fill="#1a8c9a"/>
<path d="M1323,43.8 h4.2 v5.2 h2.8 l-4.9,4.7 -4.9,-4.7 h2.8z" fill="#991b2b"/>
<path d="M1482.1,53.7 h4.2 v-4.7 h2.6 l-4.7,-4.8 -4.7,4.8 h2.6z" fill="#0b6672"/>
<text x="1329.5" y="58.6" font-size="14.2" fill="#fff" textLength="54.3" lengthAdjust="spacing">38115.<tspan font-size="9.6">0</tspan></text>
<text x="1424.8" y="58.6" font-size="14.2" fill="#fff" textLength="54.4" lengthAdjust="spacing">38119.<tspan font-size="9.6">0</tspan></text>
</svg></body></html>
